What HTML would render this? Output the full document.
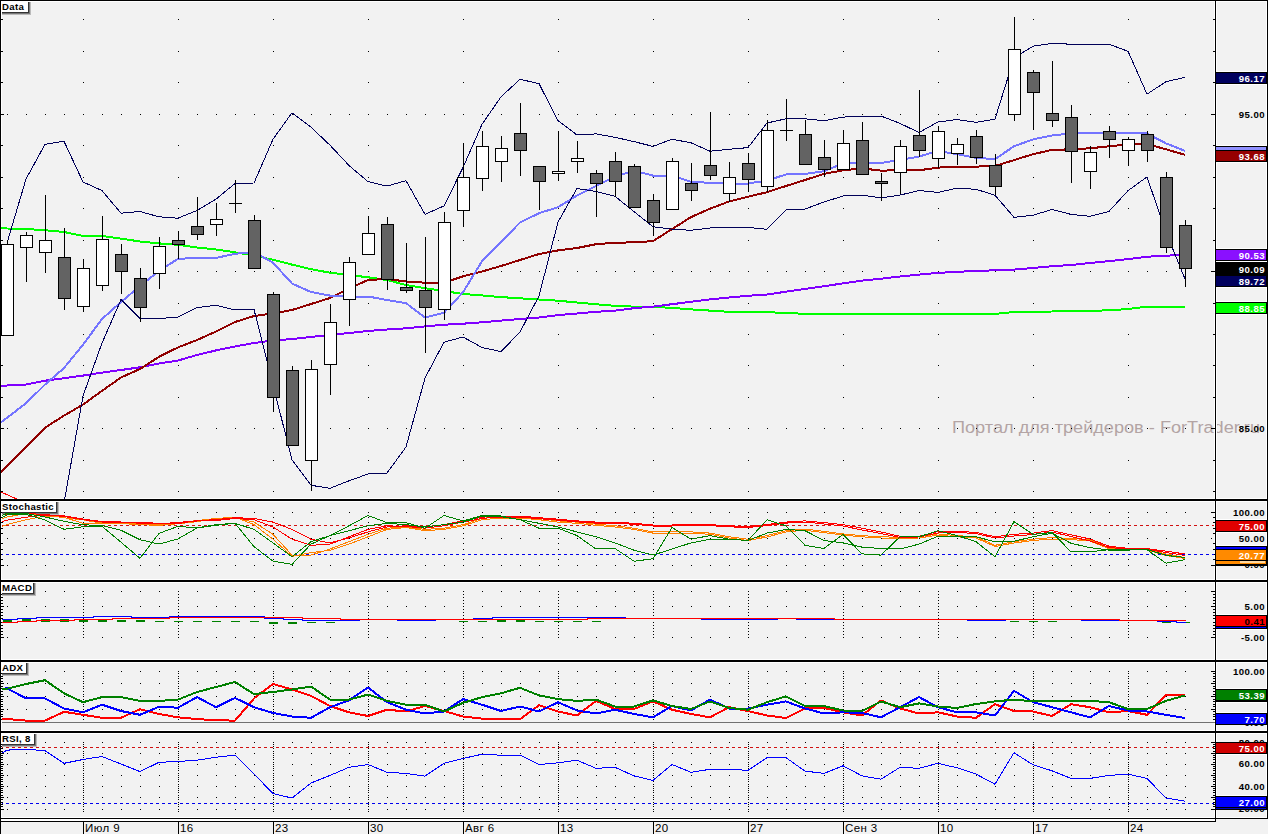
<!DOCTYPE html>
<html><head><meta charset="utf-8"><style>
html,body{margin:0;padding:0;background:#f2f2f2;}
body{width:1268px;height:834px;overflow:hidden;font-family:"Liberation Sans",sans-serif;}
svg{display:block;}
</style></head><body>
<svg width="1268" height="834" viewBox="0 0 1268 834" shape-rendering="crispEdges">
<defs>
<clipPath id="cpMain"><rect x="1" y="1" width="1213" height="498"/></clipPath>
<clipPath id="cpSto"><rect x="2" y="502" width="1212" height="77"/></clipPath>
<clipPath id="cpMacd"><rect x="2" y="582" width="1212" height="77"/></clipPath>
<clipPath id="cpAdx"><rect x="2" y="662" width="1212" height="68"/></clipPath>
<clipPath id="cpRsi"><rect x="2" y="733" width="1212" height="84"/></clipPath>
</defs>
<rect x="0" y="0" width="1268" height="834" fill="#f2f2f2"/>
<text x="952" y="433" font-family="Liberation Sans" font-size="16" fill="#b3a4a4" textLength="308" lengthAdjust="spacingAndGlyphs">Портал для трейдеров - ForTrader.ru</text>
<rect x="1" y="1" width="1214" height="1" fill="#fff"/><rect x="1" y="498" width="1214" height="1" fill="#fff"/><rect x="1216" y="1" width="51" height="1" fill="#fff"/><rect x="1216" y="498" width="51" height="1" fill="#fff"/><rect x="1" y="1" width="1" height="498" fill="#fff"/><rect x="1214" y="1" width="1" height="498" fill="#fff"/><rect x="1216" y="1" width="1" height="498" fill="#fff"/><rect x="1266" y="1" width="1" height="498" fill="#fff"/><rect x="1" y="501" width="1214" height="1" fill="#fff"/><rect x="1" y="579" width="1214" height="1" fill="#fff"/><rect x="1216" y="501" width="51" height="1" fill="#fff"/><rect x="1216" y="579" width="51" height="1" fill="#fff"/><rect x="1" y="501" width="1" height="79" fill="#fff"/><rect x="1214" y="501" width="1" height="79" fill="#fff"/><rect x="1216" y="501" width="1" height="79" fill="#fff"/><rect x="1266" y="501" width="1" height="79" fill="#fff"/><rect x="1" y="582" width="1214" height="1" fill="#fff"/><rect x="1" y="659" width="1214" height="1" fill="#fff"/><rect x="1216" y="582" width="51" height="1" fill="#fff"/><rect x="1216" y="659" width="51" height="1" fill="#fff"/><rect x="1" y="582" width="1" height="78" fill="#fff"/><rect x="1214" y="582" width="1" height="78" fill="#fff"/><rect x="1216" y="582" width="1" height="78" fill="#fff"/><rect x="1266" y="582" width="1" height="78" fill="#fff"/><rect x="1" y="662" width="1214" height="1" fill="#fff"/><rect x="1" y="730" width="1214" height="1" fill="#fff"/><rect x="1216" y="662" width="51" height="1" fill="#fff"/><rect x="1216" y="730" width="51" height="1" fill="#fff"/><rect x="1" y="662" width="1" height="69" fill="#fff"/><rect x="1214" y="662" width="1" height="69" fill="#fff"/><rect x="1216" y="662" width="1" height="69" fill="#fff"/><rect x="1266" y="662" width="1" height="69" fill="#fff"/><rect x="1" y="733" width="1214" height="1" fill="#fff"/><rect x="1" y="817" width="1214" height="1" fill="#fff"/><rect x="1216" y="733" width="51" height="1" fill="#fff"/><rect x="1216" y="817" width="51" height="1" fill="#fff"/><rect x="1" y="733" width="1" height="85" fill="#fff"/><rect x="1214" y="733" width="1" height="85" fill="#fff"/><rect x="1216" y="733" width="1" height="85" fill="#fff"/><rect x="1266" y="733" width="1" height="85" fill="#fff"/><rect x="1" y="819" width="1214" height="1" fill="#fff"/><rect x="1" y="820" width="1214" height="1" fill="#fff"/>
<path fill="#000" d="M7 114h1v1h-1zM26 114h1v1h-1zM45 114h1v1h-1zM64 114h1v1h-1zM83 114h1v1h-1zM102 114h1v1h-1zM121 114h1v1h-1zM140 114h1v1h-1zM159 114h1v1h-1zM178 114h1v1h-1zM197 114h1v1h-1zM216 114h1v1h-1zM235 114h1v1h-1zM254 114h1v1h-1zM273 114h1v1h-1zM292 114h1v1h-1zM311 114h1v1h-1zM330 114h1v1h-1zM349 114h1v1h-1zM368 114h1v1h-1zM387 114h1v1h-1zM406 114h1v1h-1zM425 114h1v1h-1zM444 114h1v1h-1zM463 114h1v1h-1zM482 114h1v1h-1zM501 114h1v1h-1zM520 114h1v1h-1zM539 114h1v1h-1zM558 114h1v1h-1zM577 114h1v1h-1zM596 114h1v1h-1zM615 114h1v1h-1zM634 114h1v1h-1zM653 114h1v1h-1zM672 114h1v1h-1zM691 114h1v1h-1zM710 114h1v1h-1zM729 114h1v1h-1zM748 114h1v1h-1zM767 114h1v1h-1zM786 114h1v1h-1zM805 114h1v1h-1zM824 114h1v1h-1zM843 114h1v1h-1zM862 114h1v1h-1zM881 114h1v1h-1zM900 114h1v1h-1zM919 114h1v1h-1zM938 114h1v1h-1zM957 114h1v1h-1zM976 114h1v1h-1zM995 114h1v1h-1zM1014 114h1v1h-1zM1033 114h1v1h-1zM1052 114h1v1h-1zM1071 114h1v1h-1zM1090 114h1v1h-1zM1109 114h1v1h-1zM1128 114h1v1h-1zM1147 114h1v1h-1zM1166 114h1v1h-1zM1185 114h1v1h-1zM7 271h1v1h-1zM26 271h1v1h-1zM45 271h1v1h-1zM64 271h1v1h-1zM83 271h1v1h-1zM102 271h1v1h-1zM121 271h1v1h-1zM140 271h1v1h-1zM159 271h1v1h-1zM178 271h1v1h-1zM197 271h1v1h-1zM216 271h1v1h-1zM235 271h1v1h-1zM254 271h1v1h-1zM273 271h1v1h-1zM292 271h1v1h-1zM311 271h1v1h-1zM330 271h1v1h-1zM349 271h1v1h-1zM368 271h1v1h-1zM387 271h1v1h-1zM406 271h1v1h-1zM425 271h1v1h-1zM444 271h1v1h-1zM463 271h1v1h-1zM482 271h1v1h-1zM501 271h1v1h-1zM520 271h1v1h-1zM539 271h1v1h-1zM558 271h1v1h-1zM577 271h1v1h-1zM596 271h1v1h-1zM615 271h1v1h-1zM634 271h1v1h-1zM653 271h1v1h-1zM672 271h1v1h-1zM691 271h1v1h-1zM710 271h1v1h-1zM729 271h1v1h-1zM748 271h1v1h-1zM767 271h1v1h-1zM786 271h1v1h-1zM805 271h1v1h-1zM824 271h1v1h-1zM843 271h1v1h-1zM862 271h1v1h-1zM881 271h1v1h-1zM900 271h1v1h-1zM919 271h1v1h-1zM938 271h1v1h-1zM957 271h1v1h-1zM976 271h1v1h-1zM995 271h1v1h-1zM1014 271h1v1h-1zM1033 271h1v1h-1zM1052 271h1v1h-1zM1071 271h1v1h-1zM1090 271h1v1h-1zM1109 271h1v1h-1zM1128 271h1v1h-1zM1147 271h1v1h-1zM1166 271h1v1h-1zM1185 271h1v1h-1zM7 428h1v1h-1zM26 428h1v1h-1zM45 428h1v1h-1zM64 428h1v1h-1zM83 428h1v1h-1zM102 428h1v1h-1zM121 428h1v1h-1zM140 428h1v1h-1zM159 428h1v1h-1zM178 428h1v1h-1zM197 428h1v1h-1zM216 428h1v1h-1zM235 428h1v1h-1zM254 428h1v1h-1zM273 428h1v1h-1zM292 428h1v1h-1zM311 428h1v1h-1zM330 428h1v1h-1zM349 428h1v1h-1zM368 428h1v1h-1zM387 428h1v1h-1zM406 428h1v1h-1zM425 428h1v1h-1zM444 428h1v1h-1zM463 428h1v1h-1zM482 428h1v1h-1zM501 428h1v1h-1zM520 428h1v1h-1zM539 428h1v1h-1zM558 428h1v1h-1zM577 428h1v1h-1zM596 428h1v1h-1zM615 428h1v1h-1zM634 428h1v1h-1zM653 428h1v1h-1zM672 428h1v1h-1zM691 428h1v1h-1zM710 428h1v1h-1zM729 428h1v1h-1zM748 428h1v1h-1zM767 428h1v1h-1zM786 428h1v1h-1zM805 428h1v1h-1zM824 428h1v1h-1zM843 428h1v1h-1zM862 428h1v1h-1zM881 428h1v1h-1zM900 428h1v1h-1zM919 428h1v1h-1zM938 428h1v1h-1zM957 428h1v1h-1zM976 428h1v1h-1zM995 428h1v1h-1zM1014 428h1v1h-1zM1033 428h1v1h-1zM1052 428h1v1h-1zM1071 428h1v1h-1zM1090 428h1v1h-1zM1109 428h1v1h-1zM1128 428h1v1h-1zM1147 428h1v1h-1zM1166 428h1v1h-1zM1185 428h1v1h-1zM83 491h1v1h-1zM83 460h1v1h-1zM83 428h1v1h-1zM83 397h1v1h-1zM83 365h1v1h-1zM83 334h1v1h-1zM83 303h1v1h-1zM83 271h1v1h-1zM83 240h1v1h-1zM83 208h1v1h-1zM83 177h1v1h-1zM83 145h1v1h-1zM83 114h1v1h-1zM83 82h1v1h-1zM83 51h1v1h-1zM83 19h1v1h-1zM178 491h1v1h-1zM178 460h1v1h-1zM178 428h1v1h-1zM178 397h1v1h-1zM178 365h1v1h-1zM178 334h1v1h-1zM178 303h1v1h-1zM178 271h1v1h-1zM178 240h1v1h-1zM178 208h1v1h-1zM178 177h1v1h-1zM178 145h1v1h-1zM178 114h1v1h-1zM178 82h1v1h-1zM178 51h1v1h-1zM178 19h1v1h-1zM273 491h1v1h-1zM273 460h1v1h-1zM273 428h1v1h-1zM273 397h1v1h-1zM273 365h1v1h-1zM273 334h1v1h-1zM273 303h1v1h-1zM273 271h1v1h-1zM273 240h1v1h-1zM273 208h1v1h-1zM273 177h1v1h-1zM273 145h1v1h-1zM273 114h1v1h-1zM273 82h1v1h-1zM273 51h1v1h-1zM273 19h1v1h-1zM368 491h1v1h-1zM368 460h1v1h-1zM368 428h1v1h-1zM368 397h1v1h-1zM368 365h1v1h-1zM368 334h1v1h-1zM368 303h1v1h-1zM368 271h1v1h-1zM368 240h1v1h-1zM368 208h1v1h-1zM368 177h1v1h-1zM368 145h1v1h-1zM368 114h1v1h-1zM368 82h1v1h-1zM368 51h1v1h-1zM368 19h1v1h-1zM463 491h1v1h-1zM463 460h1v1h-1zM463 428h1v1h-1zM463 397h1v1h-1zM463 365h1v1h-1zM463 334h1v1h-1zM463 303h1v1h-1zM463 271h1v1h-1zM463 240h1v1h-1zM463 208h1v1h-1zM463 177h1v1h-1zM463 145h1v1h-1zM463 114h1v1h-1zM463 82h1v1h-1zM463 51h1v1h-1zM463 19h1v1h-1zM558 491h1v1h-1zM558 460h1v1h-1zM558 428h1v1h-1zM558 397h1v1h-1zM558 365h1v1h-1zM558 334h1v1h-1zM558 303h1v1h-1zM558 271h1v1h-1zM558 240h1v1h-1zM558 208h1v1h-1zM558 177h1v1h-1zM558 145h1v1h-1zM558 114h1v1h-1zM558 82h1v1h-1zM558 51h1v1h-1zM558 19h1v1h-1zM653 491h1v1h-1zM653 460h1v1h-1zM653 428h1v1h-1zM653 397h1v1h-1zM653 365h1v1h-1zM653 334h1v1h-1zM653 303h1v1h-1zM653 271h1v1h-1zM653 240h1v1h-1zM653 208h1v1h-1zM653 177h1v1h-1zM653 145h1v1h-1zM653 114h1v1h-1zM653 82h1v1h-1zM653 51h1v1h-1zM653 19h1v1h-1zM748 491h1v1h-1zM748 460h1v1h-1zM748 428h1v1h-1zM748 397h1v1h-1zM748 365h1v1h-1zM748 334h1v1h-1zM748 303h1v1h-1zM748 271h1v1h-1zM748 240h1v1h-1zM748 208h1v1h-1zM748 177h1v1h-1zM748 145h1v1h-1zM748 114h1v1h-1zM748 82h1v1h-1zM748 51h1v1h-1zM748 19h1v1h-1zM843 491h1v1h-1zM843 460h1v1h-1zM843 428h1v1h-1zM843 397h1v1h-1zM843 365h1v1h-1zM843 334h1v1h-1zM843 303h1v1h-1zM843 271h1v1h-1zM843 240h1v1h-1zM843 208h1v1h-1zM843 177h1v1h-1zM843 145h1v1h-1zM843 114h1v1h-1zM843 82h1v1h-1zM843 51h1v1h-1zM843 19h1v1h-1zM938 491h1v1h-1zM938 460h1v1h-1zM938 428h1v1h-1zM938 397h1v1h-1zM938 365h1v1h-1zM938 334h1v1h-1zM938 303h1v1h-1zM938 271h1v1h-1zM938 240h1v1h-1zM938 208h1v1h-1zM938 177h1v1h-1zM938 145h1v1h-1zM938 114h1v1h-1zM938 82h1v1h-1zM938 51h1v1h-1zM938 19h1v1h-1zM1033 491h1v1h-1zM1033 460h1v1h-1zM1033 428h1v1h-1zM1033 397h1v1h-1zM1033 365h1v1h-1zM1033 334h1v1h-1zM1033 303h1v1h-1zM1033 271h1v1h-1zM1033 240h1v1h-1zM1033 208h1v1h-1zM1033 177h1v1h-1zM1033 145h1v1h-1zM1033 114h1v1h-1zM1033 82h1v1h-1zM1033 51h1v1h-1zM1033 19h1v1h-1zM1128 491h1v1h-1zM1128 460h1v1h-1zM1128 428h1v1h-1zM1128 397h1v1h-1zM1128 365h1v1h-1zM1128 334h1v1h-1zM1128 303h1v1h-1zM1128 271h1v1h-1zM1128 240h1v1h-1zM1128 208h1v1h-1zM1128 177h1v1h-1zM1128 145h1v1h-1zM1128 114h1v1h-1zM1128 82h1v1h-1zM1128 51h1v1h-1zM1128 19h1v1h-1zM7 512h1v1h-1zM26 512h1v1h-1zM45 512h1v1h-1zM64 512h1v1h-1zM83 512h1v1h-1zM102 512h1v1h-1zM121 512h1v1h-1zM140 512h1v1h-1zM159 512h1v1h-1zM178 512h1v1h-1zM197 512h1v1h-1zM216 512h1v1h-1zM235 512h1v1h-1zM254 512h1v1h-1zM273 512h1v1h-1zM292 512h1v1h-1zM311 512h1v1h-1zM330 512h1v1h-1zM349 512h1v1h-1zM368 512h1v1h-1zM387 512h1v1h-1zM406 512h1v1h-1zM425 512h1v1h-1zM444 512h1v1h-1zM463 512h1v1h-1zM482 512h1v1h-1zM501 512h1v1h-1zM520 512h1v1h-1zM539 512h1v1h-1zM558 512h1v1h-1zM577 512h1v1h-1zM596 512h1v1h-1zM615 512h1v1h-1zM634 512h1v1h-1zM653 512h1v1h-1zM672 512h1v1h-1zM691 512h1v1h-1zM710 512h1v1h-1zM729 512h1v1h-1zM748 512h1v1h-1zM767 512h1v1h-1zM786 512h1v1h-1zM805 512h1v1h-1zM824 512h1v1h-1zM843 512h1v1h-1zM862 512h1v1h-1zM881 512h1v1h-1zM900 512h1v1h-1zM919 512h1v1h-1zM938 512h1v1h-1zM957 512h1v1h-1zM976 512h1v1h-1zM995 512h1v1h-1zM1014 512h1v1h-1zM1033 512h1v1h-1zM1052 512h1v1h-1zM1071 512h1v1h-1zM1090 512h1v1h-1zM1109 512h1v1h-1zM1128 512h1v1h-1zM1147 512h1v1h-1zM1166 512h1v1h-1zM1185 512h1v1h-1zM7 538h1v1h-1zM26 538h1v1h-1zM45 538h1v1h-1zM64 538h1v1h-1zM83 538h1v1h-1zM102 538h1v1h-1zM121 538h1v1h-1zM140 538h1v1h-1zM159 538h1v1h-1zM178 538h1v1h-1zM197 538h1v1h-1zM216 538h1v1h-1zM235 538h1v1h-1zM254 538h1v1h-1zM273 538h1v1h-1zM292 538h1v1h-1zM311 538h1v1h-1zM330 538h1v1h-1zM349 538h1v1h-1zM368 538h1v1h-1zM387 538h1v1h-1zM406 538h1v1h-1zM425 538h1v1h-1zM444 538h1v1h-1zM463 538h1v1h-1zM482 538h1v1h-1zM501 538h1v1h-1zM520 538h1v1h-1zM539 538h1v1h-1zM558 538h1v1h-1zM577 538h1v1h-1zM596 538h1v1h-1zM615 538h1v1h-1zM634 538h1v1h-1zM653 538h1v1h-1zM672 538h1v1h-1zM691 538h1v1h-1zM710 538h1v1h-1zM729 538h1v1h-1zM748 538h1v1h-1zM767 538h1v1h-1zM786 538h1v1h-1zM805 538h1v1h-1zM824 538h1v1h-1zM843 538h1v1h-1zM862 538h1v1h-1zM881 538h1v1h-1zM900 538h1v1h-1zM919 538h1v1h-1zM938 538h1v1h-1zM957 538h1v1h-1zM976 538h1v1h-1zM995 538h1v1h-1zM1014 538h1v1h-1zM1033 538h1v1h-1zM1052 538h1v1h-1zM1071 538h1v1h-1zM1090 538h1v1h-1zM1109 538h1v1h-1zM1128 538h1v1h-1zM1147 538h1v1h-1zM1166 538h1v1h-1zM1185 538h1v1h-1zM7 565h1v1h-1zM26 565h1v1h-1zM45 565h1v1h-1zM64 565h1v1h-1zM83 565h1v1h-1zM102 565h1v1h-1zM121 565h1v1h-1zM140 565h1v1h-1zM159 565h1v1h-1zM178 565h1v1h-1zM197 565h1v1h-1zM216 565h1v1h-1zM235 565h1v1h-1zM254 565h1v1h-1zM273 565h1v1h-1zM292 565h1v1h-1zM311 565h1v1h-1zM330 565h1v1h-1zM349 565h1v1h-1zM368 565h1v1h-1zM387 565h1v1h-1zM406 565h1v1h-1zM425 565h1v1h-1zM444 565h1v1h-1zM463 565h1v1h-1zM482 565h1v1h-1zM501 565h1v1h-1zM520 565h1v1h-1zM539 565h1v1h-1zM558 565h1v1h-1zM577 565h1v1h-1zM596 565h1v1h-1zM615 565h1v1h-1zM634 565h1v1h-1zM653 565h1v1h-1zM672 565h1v1h-1zM691 565h1v1h-1zM710 565h1v1h-1zM729 565h1v1h-1zM748 565h1v1h-1zM767 565h1v1h-1zM786 565h1v1h-1zM805 565h1v1h-1zM824 565h1v1h-1zM843 565h1v1h-1zM862 565h1v1h-1zM881 565h1v1h-1zM900 565h1v1h-1zM919 565h1v1h-1zM938 565h1v1h-1zM957 565h1v1h-1zM976 565h1v1h-1zM995 565h1v1h-1zM1014 565h1v1h-1zM1033 565h1v1h-1zM1052 565h1v1h-1zM1071 565h1v1h-1zM1090 565h1v1h-1zM1109 565h1v1h-1zM1128 565h1v1h-1zM1147 565h1v1h-1zM1166 565h1v1h-1zM1185 565h1v1h-1zM83 565h1v1h-1zM83 559h1v1h-1zM83 554h1v1h-1zM83 549h1v1h-1zM83 543h1v1h-1zM83 538h1v1h-1zM83 533h1v1h-1zM83 528h1v1h-1zM83 522h1v1h-1zM83 517h1v1h-1zM83 512h1v1h-1zM178 565h1v1h-1zM178 559h1v1h-1zM178 554h1v1h-1zM178 549h1v1h-1zM178 543h1v1h-1zM178 538h1v1h-1zM178 533h1v1h-1zM178 528h1v1h-1zM178 522h1v1h-1zM178 517h1v1h-1zM178 512h1v1h-1zM273 565h1v1h-1zM273 559h1v1h-1zM273 554h1v1h-1zM273 549h1v1h-1zM273 543h1v1h-1zM273 538h1v1h-1zM273 533h1v1h-1zM273 528h1v1h-1zM273 522h1v1h-1zM273 517h1v1h-1zM273 512h1v1h-1zM368 565h1v1h-1zM368 559h1v1h-1zM368 554h1v1h-1zM368 549h1v1h-1zM368 543h1v1h-1zM368 538h1v1h-1zM368 533h1v1h-1zM368 528h1v1h-1zM368 522h1v1h-1zM368 517h1v1h-1zM368 512h1v1h-1zM463 565h1v1h-1zM463 559h1v1h-1zM463 554h1v1h-1zM463 549h1v1h-1zM463 543h1v1h-1zM463 538h1v1h-1zM463 533h1v1h-1zM463 528h1v1h-1zM463 522h1v1h-1zM463 517h1v1h-1zM463 512h1v1h-1zM558 565h1v1h-1zM558 559h1v1h-1zM558 554h1v1h-1zM558 549h1v1h-1zM558 543h1v1h-1zM558 538h1v1h-1zM558 533h1v1h-1zM558 528h1v1h-1zM558 522h1v1h-1zM558 517h1v1h-1zM558 512h1v1h-1zM653 565h1v1h-1zM653 559h1v1h-1zM653 554h1v1h-1zM653 549h1v1h-1zM653 543h1v1h-1zM653 538h1v1h-1zM653 533h1v1h-1zM653 528h1v1h-1zM653 522h1v1h-1zM653 517h1v1h-1zM653 512h1v1h-1zM748 565h1v1h-1zM748 559h1v1h-1zM748 554h1v1h-1zM748 549h1v1h-1zM748 543h1v1h-1zM748 538h1v1h-1zM748 533h1v1h-1zM748 528h1v1h-1zM748 522h1v1h-1zM748 517h1v1h-1zM748 512h1v1h-1zM843 565h1v1h-1zM843 559h1v1h-1zM843 554h1v1h-1zM843 549h1v1h-1zM843 543h1v1h-1zM843 538h1v1h-1zM843 533h1v1h-1zM843 528h1v1h-1zM843 522h1v1h-1zM843 517h1v1h-1zM843 512h1v1h-1zM938 565h1v1h-1zM938 559h1v1h-1zM938 554h1v1h-1zM938 549h1v1h-1zM938 543h1v1h-1zM938 538h1v1h-1zM938 533h1v1h-1zM938 528h1v1h-1zM938 522h1v1h-1zM938 517h1v1h-1zM938 512h1v1h-1zM1033 565h1v1h-1zM1033 559h1v1h-1zM1033 554h1v1h-1zM1033 549h1v1h-1zM1033 543h1v1h-1zM1033 538h1v1h-1zM1033 533h1v1h-1zM1033 528h1v1h-1zM1033 522h1v1h-1zM1033 517h1v1h-1zM1033 512h1v1h-1zM1128 565h1v1h-1zM1128 559h1v1h-1zM1128 554h1v1h-1zM1128 549h1v1h-1zM1128 543h1v1h-1zM1128 538h1v1h-1zM1128 533h1v1h-1zM1128 528h1v1h-1zM1128 522h1v1h-1zM1128 517h1v1h-1zM1128 512h1v1h-1zM7 591h1v1h-1zM26 591h1v1h-1zM45 591h1v1h-1zM64 591h1v1h-1zM83 591h1v1h-1zM102 591h1v1h-1zM121 591h1v1h-1zM140 591h1v1h-1zM159 591h1v1h-1zM178 591h1v1h-1zM197 591h1v1h-1zM216 591h1v1h-1zM235 591h1v1h-1zM254 591h1v1h-1zM273 591h1v1h-1zM292 591h1v1h-1zM311 591h1v1h-1zM330 591h1v1h-1zM349 591h1v1h-1zM368 591h1v1h-1zM387 591h1v1h-1zM406 591h1v1h-1zM425 591h1v1h-1zM444 591h1v1h-1zM463 591h1v1h-1zM482 591h1v1h-1zM501 591h1v1h-1zM520 591h1v1h-1zM539 591h1v1h-1zM558 591h1v1h-1zM577 591h1v1h-1zM596 591h1v1h-1zM615 591h1v1h-1zM634 591h1v1h-1zM653 591h1v1h-1zM672 591h1v1h-1zM691 591h1v1h-1zM710 591h1v1h-1zM729 591h1v1h-1zM748 591h1v1h-1zM767 591h1v1h-1zM786 591h1v1h-1zM805 591h1v1h-1zM824 591h1v1h-1zM843 591h1v1h-1zM862 591h1v1h-1zM881 591h1v1h-1zM900 591h1v1h-1zM919 591h1v1h-1zM938 591h1v1h-1zM957 591h1v1h-1zM976 591h1v1h-1zM995 591h1v1h-1zM1014 591h1v1h-1zM1033 591h1v1h-1zM1052 591h1v1h-1zM1071 591h1v1h-1zM1090 591h1v1h-1zM1109 591h1v1h-1zM1128 591h1v1h-1zM1147 591h1v1h-1zM1166 591h1v1h-1zM1185 591h1v1h-1zM7 606h1v1h-1zM26 606h1v1h-1zM45 606h1v1h-1zM64 606h1v1h-1zM83 606h1v1h-1zM102 606h1v1h-1zM121 606h1v1h-1zM140 606h1v1h-1zM159 606h1v1h-1zM178 606h1v1h-1zM197 606h1v1h-1zM216 606h1v1h-1zM235 606h1v1h-1zM254 606h1v1h-1zM273 606h1v1h-1zM292 606h1v1h-1zM311 606h1v1h-1zM330 606h1v1h-1zM349 606h1v1h-1zM368 606h1v1h-1zM387 606h1v1h-1zM406 606h1v1h-1zM425 606h1v1h-1zM444 606h1v1h-1zM463 606h1v1h-1zM482 606h1v1h-1zM501 606h1v1h-1zM520 606h1v1h-1zM539 606h1v1h-1zM558 606h1v1h-1zM577 606h1v1h-1zM596 606h1v1h-1zM615 606h1v1h-1zM634 606h1v1h-1zM653 606h1v1h-1zM672 606h1v1h-1zM691 606h1v1h-1zM710 606h1v1h-1zM729 606h1v1h-1zM748 606h1v1h-1zM767 606h1v1h-1zM786 606h1v1h-1zM805 606h1v1h-1zM824 606h1v1h-1zM843 606h1v1h-1zM862 606h1v1h-1zM881 606h1v1h-1zM900 606h1v1h-1zM919 606h1v1h-1zM938 606h1v1h-1zM957 606h1v1h-1zM976 606h1v1h-1zM995 606h1v1h-1zM1014 606h1v1h-1zM1033 606h1v1h-1zM1052 606h1v1h-1zM1071 606h1v1h-1zM1090 606h1v1h-1zM1109 606h1v1h-1zM1128 606h1v1h-1zM1147 606h1v1h-1zM1166 606h1v1h-1zM1185 606h1v1h-1zM7 637h1v1h-1zM26 637h1v1h-1zM45 637h1v1h-1zM64 637h1v1h-1zM83 637h1v1h-1zM102 637h1v1h-1zM121 637h1v1h-1zM140 637h1v1h-1zM159 637h1v1h-1zM178 637h1v1h-1zM197 637h1v1h-1zM216 637h1v1h-1zM235 637h1v1h-1zM254 637h1v1h-1zM273 637h1v1h-1zM292 637h1v1h-1zM311 637h1v1h-1zM330 637h1v1h-1zM349 637h1v1h-1zM368 637h1v1h-1zM387 637h1v1h-1zM406 637h1v1h-1zM425 637h1v1h-1zM444 637h1v1h-1zM463 637h1v1h-1zM482 637h1v1h-1zM501 637h1v1h-1zM520 637h1v1h-1zM539 637h1v1h-1zM558 637h1v1h-1zM577 637h1v1h-1zM596 637h1v1h-1zM615 637h1v1h-1zM634 637h1v1h-1zM653 637h1v1h-1zM672 637h1v1h-1zM691 637h1v1h-1zM710 637h1v1h-1zM729 637h1v1h-1zM748 637h1v1h-1zM767 637h1v1h-1zM786 637h1v1h-1zM805 637h1v1h-1zM824 637h1v1h-1zM843 637h1v1h-1zM862 637h1v1h-1zM881 637h1v1h-1zM900 637h1v1h-1zM919 637h1v1h-1zM938 637h1v1h-1zM957 637h1v1h-1zM976 637h1v1h-1zM995 637h1v1h-1zM1014 637h1v1h-1zM1033 637h1v1h-1zM1052 637h1v1h-1zM1071 637h1v1h-1zM1090 637h1v1h-1zM1109 637h1v1h-1zM1128 637h1v1h-1zM1147 637h1v1h-1zM1166 637h1v1h-1zM1185 637h1v1h-1zM83 637h1v1h-1zM83 634h1v1h-1zM83 631h1v1h-1zM83 628h1v1h-1zM83 625h1v1h-1zM83 622h1v1h-1zM83 618h1v1h-1zM83 615h1v1h-1zM83 612h1v1h-1zM83 609h1v1h-1zM83 606h1v1h-1zM83 603h1v1h-1zM83 600h1v1h-1zM83 597h1v1h-1zM83 594h1v1h-1zM83 591h1v1h-1zM178 637h1v1h-1zM178 634h1v1h-1zM178 631h1v1h-1zM178 628h1v1h-1zM178 625h1v1h-1zM178 622h1v1h-1zM178 618h1v1h-1zM178 615h1v1h-1zM178 612h1v1h-1zM178 609h1v1h-1zM178 606h1v1h-1zM178 603h1v1h-1zM178 600h1v1h-1zM178 597h1v1h-1zM178 594h1v1h-1zM178 591h1v1h-1zM273 637h1v1h-1zM273 634h1v1h-1zM273 631h1v1h-1zM273 628h1v1h-1zM273 625h1v1h-1zM273 622h1v1h-1zM273 618h1v1h-1zM273 615h1v1h-1zM273 612h1v1h-1zM273 609h1v1h-1zM273 606h1v1h-1zM273 603h1v1h-1zM273 600h1v1h-1zM273 597h1v1h-1zM273 594h1v1h-1zM273 591h1v1h-1zM368 637h1v1h-1zM368 634h1v1h-1zM368 631h1v1h-1zM368 628h1v1h-1zM368 625h1v1h-1zM368 622h1v1h-1zM368 618h1v1h-1zM368 615h1v1h-1zM368 612h1v1h-1zM368 609h1v1h-1zM368 606h1v1h-1zM368 603h1v1h-1zM368 600h1v1h-1zM368 597h1v1h-1zM368 594h1v1h-1zM368 591h1v1h-1zM463 637h1v1h-1zM463 634h1v1h-1zM463 631h1v1h-1zM463 628h1v1h-1zM463 625h1v1h-1zM463 622h1v1h-1zM463 618h1v1h-1zM463 615h1v1h-1zM463 612h1v1h-1zM463 609h1v1h-1zM463 606h1v1h-1zM463 603h1v1h-1zM463 600h1v1h-1zM463 597h1v1h-1zM463 594h1v1h-1zM463 591h1v1h-1zM558 637h1v1h-1zM558 634h1v1h-1zM558 631h1v1h-1zM558 628h1v1h-1zM558 625h1v1h-1zM558 622h1v1h-1zM558 618h1v1h-1zM558 615h1v1h-1zM558 612h1v1h-1zM558 609h1v1h-1zM558 606h1v1h-1zM558 603h1v1h-1zM558 600h1v1h-1zM558 597h1v1h-1zM558 594h1v1h-1zM558 591h1v1h-1zM653 637h1v1h-1zM653 634h1v1h-1zM653 631h1v1h-1zM653 628h1v1h-1zM653 625h1v1h-1zM653 622h1v1h-1zM653 618h1v1h-1zM653 615h1v1h-1zM653 612h1v1h-1zM653 609h1v1h-1zM653 606h1v1h-1zM653 603h1v1h-1zM653 600h1v1h-1zM653 597h1v1h-1zM653 594h1v1h-1zM653 591h1v1h-1zM748 637h1v1h-1zM748 634h1v1h-1zM748 631h1v1h-1zM748 628h1v1h-1zM748 625h1v1h-1zM748 622h1v1h-1zM748 618h1v1h-1zM748 615h1v1h-1zM748 612h1v1h-1zM748 609h1v1h-1zM748 606h1v1h-1zM748 603h1v1h-1zM748 600h1v1h-1zM748 597h1v1h-1zM748 594h1v1h-1zM748 591h1v1h-1zM843 637h1v1h-1zM843 634h1v1h-1zM843 631h1v1h-1zM843 628h1v1h-1zM843 625h1v1h-1zM843 622h1v1h-1zM843 618h1v1h-1zM843 615h1v1h-1zM843 612h1v1h-1zM843 609h1v1h-1zM843 606h1v1h-1zM843 603h1v1h-1zM843 600h1v1h-1zM843 597h1v1h-1zM843 594h1v1h-1zM843 591h1v1h-1zM938 637h1v1h-1zM938 634h1v1h-1zM938 631h1v1h-1zM938 628h1v1h-1zM938 625h1v1h-1zM938 622h1v1h-1zM938 618h1v1h-1zM938 615h1v1h-1zM938 612h1v1h-1zM938 609h1v1h-1zM938 606h1v1h-1zM938 603h1v1h-1zM938 600h1v1h-1zM938 597h1v1h-1zM938 594h1v1h-1zM938 591h1v1h-1zM1033 637h1v1h-1zM1033 634h1v1h-1zM1033 631h1v1h-1zM1033 628h1v1h-1zM1033 625h1v1h-1zM1033 622h1v1h-1zM1033 618h1v1h-1zM1033 615h1v1h-1zM1033 612h1v1h-1zM1033 609h1v1h-1zM1033 606h1v1h-1zM1033 603h1v1h-1zM1033 600h1v1h-1zM1033 597h1v1h-1zM1033 594h1v1h-1zM1033 591h1v1h-1zM1128 637h1v1h-1zM1128 634h1v1h-1zM1128 631h1v1h-1zM1128 628h1v1h-1zM1128 625h1v1h-1zM1128 622h1v1h-1zM1128 618h1v1h-1zM1128 615h1v1h-1zM1128 612h1v1h-1zM1128 609h1v1h-1zM1128 606h1v1h-1zM1128 603h1v1h-1zM1128 600h1v1h-1zM1128 597h1v1h-1zM1128 594h1v1h-1zM1128 591h1v1h-1zM7 671h1v1h-1zM26 671h1v1h-1zM45 671h1v1h-1zM64 671h1v1h-1zM83 671h1v1h-1zM102 671h1v1h-1zM121 671h1v1h-1zM140 671h1v1h-1zM159 671h1v1h-1zM178 671h1v1h-1zM197 671h1v1h-1zM216 671h1v1h-1zM235 671h1v1h-1zM254 671h1v1h-1zM273 671h1v1h-1zM292 671h1v1h-1zM311 671h1v1h-1zM330 671h1v1h-1zM349 671h1v1h-1zM368 671h1v1h-1zM387 671h1v1h-1zM406 671h1v1h-1zM425 671h1v1h-1zM444 671h1v1h-1zM463 671h1v1h-1zM482 671h1v1h-1zM501 671h1v1h-1zM520 671h1v1h-1zM539 671h1v1h-1zM558 671h1v1h-1zM577 671h1v1h-1zM596 671h1v1h-1zM615 671h1v1h-1zM634 671h1v1h-1zM653 671h1v1h-1zM672 671h1v1h-1zM691 671h1v1h-1zM710 671h1v1h-1zM729 671h1v1h-1zM748 671h1v1h-1zM767 671h1v1h-1zM786 671h1v1h-1zM805 671h1v1h-1zM824 671h1v1h-1zM843 671h1v1h-1zM862 671h1v1h-1zM881 671h1v1h-1zM900 671h1v1h-1zM919 671h1v1h-1zM938 671h1v1h-1zM957 671h1v1h-1zM976 671h1v1h-1zM995 671h1v1h-1zM1014 671h1v1h-1zM1033 671h1v1h-1zM1052 671h1v1h-1zM1071 671h1v1h-1zM1090 671h1v1h-1zM1109 671h1v1h-1zM1128 671h1v1h-1zM1147 671h1v1h-1zM1166 671h1v1h-1zM1185 671h1v1h-1zM7 683h1v1h-1zM26 683h1v1h-1zM45 683h1v1h-1zM64 683h1v1h-1zM83 683h1v1h-1zM102 683h1v1h-1zM121 683h1v1h-1zM140 683h1v1h-1zM159 683h1v1h-1zM178 683h1v1h-1zM197 683h1v1h-1zM216 683h1v1h-1zM235 683h1v1h-1zM254 683h1v1h-1zM273 683h1v1h-1zM292 683h1v1h-1zM311 683h1v1h-1zM330 683h1v1h-1zM349 683h1v1h-1zM368 683h1v1h-1zM387 683h1v1h-1zM406 683h1v1h-1zM425 683h1v1h-1zM444 683h1v1h-1zM463 683h1v1h-1zM482 683h1v1h-1zM501 683h1v1h-1zM520 683h1v1h-1zM539 683h1v1h-1zM558 683h1v1h-1zM577 683h1v1h-1zM596 683h1v1h-1zM615 683h1v1h-1zM634 683h1v1h-1zM653 683h1v1h-1zM672 683h1v1h-1zM691 683h1v1h-1zM710 683h1v1h-1zM729 683h1v1h-1zM748 683h1v1h-1zM767 683h1v1h-1zM786 683h1v1h-1zM805 683h1v1h-1zM824 683h1v1h-1zM843 683h1v1h-1zM862 683h1v1h-1zM881 683h1v1h-1zM900 683h1v1h-1zM919 683h1v1h-1zM938 683h1v1h-1zM957 683h1v1h-1zM976 683h1v1h-1zM995 683h1v1h-1zM1014 683h1v1h-1zM1033 683h1v1h-1zM1052 683h1v1h-1zM1071 683h1v1h-1zM1090 683h1v1h-1zM1109 683h1v1h-1zM1128 683h1v1h-1zM1147 683h1v1h-1zM1166 683h1v1h-1zM1185 683h1v1h-1zM7 696h1v1h-1zM26 696h1v1h-1zM45 696h1v1h-1zM64 696h1v1h-1zM83 696h1v1h-1zM102 696h1v1h-1zM121 696h1v1h-1zM140 696h1v1h-1zM159 696h1v1h-1zM178 696h1v1h-1zM197 696h1v1h-1zM216 696h1v1h-1zM235 696h1v1h-1zM254 696h1v1h-1zM273 696h1v1h-1zM292 696h1v1h-1zM311 696h1v1h-1zM330 696h1v1h-1zM349 696h1v1h-1zM368 696h1v1h-1zM387 696h1v1h-1zM406 696h1v1h-1zM425 696h1v1h-1zM444 696h1v1h-1zM463 696h1v1h-1zM482 696h1v1h-1zM501 696h1v1h-1zM520 696h1v1h-1zM539 696h1v1h-1zM558 696h1v1h-1zM577 696h1v1h-1zM596 696h1v1h-1zM615 696h1v1h-1zM634 696h1v1h-1zM653 696h1v1h-1zM672 696h1v1h-1zM691 696h1v1h-1zM710 696h1v1h-1zM729 696h1v1h-1zM748 696h1v1h-1zM767 696h1v1h-1zM786 696h1v1h-1zM805 696h1v1h-1zM824 696h1v1h-1zM843 696h1v1h-1zM862 696h1v1h-1zM881 696h1v1h-1zM900 696h1v1h-1zM919 696h1v1h-1zM938 696h1v1h-1zM957 696h1v1h-1zM976 696h1v1h-1zM995 696h1v1h-1zM1014 696h1v1h-1zM1033 696h1v1h-1zM1052 696h1v1h-1zM1071 696h1v1h-1zM1090 696h1v1h-1zM1109 696h1v1h-1zM1128 696h1v1h-1zM1147 696h1v1h-1zM1166 696h1v1h-1zM1185 696h1v1h-1zM7 709h1v1h-1zM26 709h1v1h-1zM45 709h1v1h-1zM64 709h1v1h-1zM83 709h1v1h-1zM102 709h1v1h-1zM121 709h1v1h-1zM140 709h1v1h-1zM159 709h1v1h-1zM178 709h1v1h-1zM197 709h1v1h-1zM216 709h1v1h-1zM235 709h1v1h-1zM254 709h1v1h-1zM273 709h1v1h-1zM292 709h1v1h-1zM311 709h1v1h-1zM330 709h1v1h-1zM349 709h1v1h-1zM368 709h1v1h-1zM387 709h1v1h-1zM406 709h1v1h-1zM425 709h1v1h-1zM444 709h1v1h-1zM463 709h1v1h-1zM482 709h1v1h-1zM501 709h1v1h-1zM520 709h1v1h-1zM539 709h1v1h-1zM558 709h1v1h-1zM577 709h1v1h-1zM596 709h1v1h-1zM615 709h1v1h-1zM634 709h1v1h-1zM653 709h1v1h-1zM672 709h1v1h-1zM691 709h1v1h-1zM710 709h1v1h-1zM729 709h1v1h-1zM748 709h1v1h-1zM767 709h1v1h-1zM786 709h1v1h-1zM805 709h1v1h-1zM824 709h1v1h-1zM843 709h1v1h-1zM862 709h1v1h-1zM881 709h1v1h-1zM900 709h1v1h-1zM919 709h1v1h-1zM938 709h1v1h-1zM957 709h1v1h-1zM976 709h1v1h-1zM995 709h1v1h-1zM1014 709h1v1h-1zM1033 709h1v1h-1zM1052 709h1v1h-1zM1071 709h1v1h-1zM1090 709h1v1h-1zM1109 709h1v1h-1zM1128 709h1v1h-1zM1147 709h1v1h-1zM1166 709h1v1h-1zM1185 709h1v1h-1zM83 719h1v1h-1zM83 716h1v1h-1zM83 714h1v1h-1zM83 711h1v1h-1zM83 709h1v1h-1zM83 706h1v1h-1zM83 704h1v1h-1zM83 701h1v1h-1zM83 699h1v1h-1zM83 696h1v1h-1zM83 694h1v1h-1zM83 691h1v1h-1zM83 688h1v1h-1zM83 686h1v1h-1zM83 683h1v1h-1zM83 681h1v1h-1zM83 678h1v1h-1zM83 676h1v1h-1zM83 673h1v1h-1zM83 671h1v1h-1zM178 719h1v1h-1zM178 716h1v1h-1zM178 714h1v1h-1zM178 711h1v1h-1zM178 709h1v1h-1zM178 706h1v1h-1zM178 704h1v1h-1zM178 701h1v1h-1zM178 699h1v1h-1zM178 696h1v1h-1zM178 694h1v1h-1zM178 691h1v1h-1zM178 688h1v1h-1zM178 686h1v1h-1zM178 683h1v1h-1zM178 681h1v1h-1zM178 678h1v1h-1zM178 676h1v1h-1zM178 673h1v1h-1zM178 671h1v1h-1zM273 719h1v1h-1zM273 716h1v1h-1zM273 714h1v1h-1zM273 711h1v1h-1zM273 709h1v1h-1zM273 706h1v1h-1zM273 704h1v1h-1zM273 701h1v1h-1zM273 699h1v1h-1zM273 696h1v1h-1zM273 694h1v1h-1zM273 691h1v1h-1zM273 688h1v1h-1zM273 686h1v1h-1zM273 683h1v1h-1zM273 681h1v1h-1zM273 678h1v1h-1zM273 676h1v1h-1zM273 673h1v1h-1zM273 671h1v1h-1zM368 719h1v1h-1zM368 716h1v1h-1zM368 714h1v1h-1zM368 711h1v1h-1zM368 709h1v1h-1zM368 706h1v1h-1zM368 704h1v1h-1zM368 701h1v1h-1zM368 699h1v1h-1zM368 696h1v1h-1zM368 694h1v1h-1zM368 691h1v1h-1zM368 688h1v1h-1zM368 686h1v1h-1zM368 683h1v1h-1zM368 681h1v1h-1zM368 678h1v1h-1zM368 676h1v1h-1zM368 673h1v1h-1zM368 671h1v1h-1zM463 719h1v1h-1zM463 716h1v1h-1zM463 714h1v1h-1zM463 711h1v1h-1zM463 709h1v1h-1zM463 706h1v1h-1zM463 704h1v1h-1zM463 701h1v1h-1zM463 699h1v1h-1zM463 696h1v1h-1zM463 694h1v1h-1zM463 691h1v1h-1zM463 688h1v1h-1zM463 686h1v1h-1zM463 683h1v1h-1zM463 681h1v1h-1zM463 678h1v1h-1zM463 676h1v1h-1zM463 673h1v1h-1zM463 671h1v1h-1zM558 719h1v1h-1zM558 716h1v1h-1zM558 714h1v1h-1zM558 711h1v1h-1zM558 709h1v1h-1zM558 706h1v1h-1zM558 704h1v1h-1zM558 701h1v1h-1zM558 699h1v1h-1zM558 696h1v1h-1zM558 694h1v1h-1zM558 691h1v1h-1zM558 688h1v1h-1zM558 686h1v1h-1zM558 683h1v1h-1zM558 681h1v1h-1zM558 678h1v1h-1zM558 676h1v1h-1zM558 673h1v1h-1zM558 671h1v1h-1zM653 719h1v1h-1zM653 716h1v1h-1zM653 714h1v1h-1zM653 711h1v1h-1zM653 709h1v1h-1zM653 706h1v1h-1zM653 704h1v1h-1zM653 701h1v1h-1zM653 699h1v1h-1zM653 696h1v1h-1zM653 694h1v1h-1zM653 691h1v1h-1zM653 688h1v1h-1zM653 686h1v1h-1zM653 683h1v1h-1zM653 681h1v1h-1zM653 678h1v1h-1zM653 676h1v1h-1zM653 673h1v1h-1zM653 671h1v1h-1zM748 719h1v1h-1zM748 716h1v1h-1zM748 714h1v1h-1zM748 711h1v1h-1zM748 709h1v1h-1zM748 706h1v1h-1zM748 704h1v1h-1zM748 701h1v1h-1zM748 699h1v1h-1zM748 696h1v1h-1zM748 694h1v1h-1zM748 691h1v1h-1zM748 688h1v1h-1zM748 686h1v1h-1zM748 683h1v1h-1zM748 681h1v1h-1zM748 678h1v1h-1zM748 676h1v1h-1zM748 673h1v1h-1zM748 671h1v1h-1zM843 719h1v1h-1zM843 716h1v1h-1zM843 714h1v1h-1zM843 711h1v1h-1zM843 709h1v1h-1zM843 706h1v1h-1zM843 704h1v1h-1zM843 701h1v1h-1zM843 699h1v1h-1zM843 696h1v1h-1zM843 694h1v1h-1zM843 691h1v1h-1zM843 688h1v1h-1zM843 686h1v1h-1zM843 683h1v1h-1zM843 681h1v1h-1zM843 678h1v1h-1zM843 676h1v1h-1zM843 673h1v1h-1zM843 671h1v1h-1zM938 719h1v1h-1zM938 716h1v1h-1zM938 714h1v1h-1zM938 711h1v1h-1zM938 709h1v1h-1zM938 706h1v1h-1zM938 704h1v1h-1zM938 701h1v1h-1zM938 699h1v1h-1zM938 696h1v1h-1zM938 694h1v1h-1zM938 691h1v1h-1zM938 688h1v1h-1zM938 686h1v1h-1zM938 683h1v1h-1zM938 681h1v1h-1zM938 678h1v1h-1zM938 676h1v1h-1zM938 673h1v1h-1zM938 671h1v1h-1zM1033 719h1v1h-1zM1033 716h1v1h-1zM1033 714h1v1h-1zM1033 711h1v1h-1zM1033 709h1v1h-1zM1033 706h1v1h-1zM1033 704h1v1h-1zM1033 701h1v1h-1zM1033 699h1v1h-1zM1033 696h1v1h-1zM1033 694h1v1h-1zM1033 691h1v1h-1zM1033 688h1v1h-1zM1033 686h1v1h-1zM1033 683h1v1h-1zM1033 681h1v1h-1zM1033 678h1v1h-1zM1033 676h1v1h-1zM1033 673h1v1h-1zM1033 671h1v1h-1zM1128 719h1v1h-1zM1128 716h1v1h-1zM1128 714h1v1h-1zM1128 711h1v1h-1zM1128 709h1v1h-1zM1128 706h1v1h-1zM1128 704h1v1h-1zM1128 701h1v1h-1zM1128 699h1v1h-1zM1128 696h1v1h-1zM1128 694h1v1h-1zM1128 691h1v1h-1zM1128 688h1v1h-1zM1128 686h1v1h-1zM1128 683h1v1h-1zM1128 681h1v1h-1zM1128 678h1v1h-1zM1128 676h1v1h-1zM1128 673h1v1h-1zM1128 671h1v1h-1zM7 809h1v1h-1zM26 809h1v1h-1zM45 809h1v1h-1zM64 809h1v1h-1zM83 809h1v1h-1zM102 809h1v1h-1zM121 809h1v1h-1zM140 809h1v1h-1zM159 809h1v1h-1zM178 809h1v1h-1zM197 809h1v1h-1zM216 809h1v1h-1zM235 809h1v1h-1zM254 809h1v1h-1zM273 809h1v1h-1zM292 809h1v1h-1zM311 809h1v1h-1zM330 809h1v1h-1zM349 809h1v1h-1zM368 809h1v1h-1zM387 809h1v1h-1zM406 809h1v1h-1zM425 809h1v1h-1zM444 809h1v1h-1zM463 809h1v1h-1zM482 809h1v1h-1zM501 809h1v1h-1zM520 809h1v1h-1zM539 809h1v1h-1zM558 809h1v1h-1zM577 809h1v1h-1zM596 809h1v1h-1zM615 809h1v1h-1zM634 809h1v1h-1zM653 809h1v1h-1zM672 809h1v1h-1zM691 809h1v1h-1zM710 809h1v1h-1zM729 809h1v1h-1zM748 809h1v1h-1zM767 809h1v1h-1zM786 809h1v1h-1zM805 809h1v1h-1zM824 809h1v1h-1zM843 809h1v1h-1zM862 809h1v1h-1zM881 809h1v1h-1zM900 809h1v1h-1zM919 809h1v1h-1zM938 809h1v1h-1zM957 809h1v1h-1zM976 809h1v1h-1zM995 809h1v1h-1zM1014 809h1v1h-1zM1033 809h1v1h-1zM1052 809h1v1h-1zM1071 809h1v1h-1zM1090 809h1v1h-1zM1109 809h1v1h-1zM1128 809h1v1h-1zM1147 809h1v1h-1zM1166 809h1v1h-1zM1185 809h1v1h-1zM7 797h1v1h-1zM26 797h1v1h-1zM45 797h1v1h-1zM64 797h1v1h-1zM83 797h1v1h-1zM102 797h1v1h-1zM121 797h1v1h-1zM140 797h1v1h-1zM159 797h1v1h-1zM178 797h1v1h-1zM197 797h1v1h-1zM216 797h1v1h-1zM235 797h1v1h-1zM254 797h1v1h-1zM273 797h1v1h-1zM292 797h1v1h-1zM311 797h1v1h-1zM330 797h1v1h-1zM349 797h1v1h-1zM368 797h1v1h-1zM387 797h1v1h-1zM406 797h1v1h-1zM425 797h1v1h-1zM444 797h1v1h-1zM463 797h1v1h-1zM482 797h1v1h-1zM501 797h1v1h-1zM520 797h1v1h-1zM539 797h1v1h-1zM558 797h1v1h-1zM577 797h1v1h-1zM596 797h1v1h-1zM615 797h1v1h-1zM634 797h1v1h-1zM653 797h1v1h-1zM672 797h1v1h-1zM691 797h1v1h-1zM710 797h1v1h-1zM729 797h1v1h-1zM748 797h1v1h-1zM767 797h1v1h-1zM786 797h1v1h-1zM805 797h1v1h-1zM824 797h1v1h-1zM843 797h1v1h-1zM862 797h1v1h-1zM881 797h1v1h-1zM900 797h1v1h-1zM919 797h1v1h-1zM938 797h1v1h-1zM957 797h1v1h-1zM976 797h1v1h-1zM995 797h1v1h-1zM1014 797h1v1h-1zM1033 797h1v1h-1zM1052 797h1v1h-1zM1071 797h1v1h-1zM1090 797h1v1h-1zM1109 797h1v1h-1zM1128 797h1v1h-1zM1147 797h1v1h-1zM1166 797h1v1h-1zM1185 797h1v1h-1zM7 786h1v1h-1zM26 786h1v1h-1zM45 786h1v1h-1zM64 786h1v1h-1zM83 786h1v1h-1zM102 786h1v1h-1zM121 786h1v1h-1zM140 786h1v1h-1zM159 786h1v1h-1zM178 786h1v1h-1zM197 786h1v1h-1zM216 786h1v1h-1zM235 786h1v1h-1zM254 786h1v1h-1zM273 786h1v1h-1zM292 786h1v1h-1zM311 786h1v1h-1zM330 786h1v1h-1zM349 786h1v1h-1zM368 786h1v1h-1zM387 786h1v1h-1zM406 786h1v1h-1zM425 786h1v1h-1zM444 786h1v1h-1zM463 786h1v1h-1zM482 786h1v1h-1zM501 786h1v1h-1zM520 786h1v1h-1zM539 786h1v1h-1zM558 786h1v1h-1zM577 786h1v1h-1zM596 786h1v1h-1zM615 786h1v1h-1zM634 786h1v1h-1zM653 786h1v1h-1zM672 786h1v1h-1zM691 786h1v1h-1zM710 786h1v1h-1zM729 786h1v1h-1zM748 786h1v1h-1zM767 786h1v1h-1zM786 786h1v1h-1zM805 786h1v1h-1zM824 786h1v1h-1zM843 786h1v1h-1zM862 786h1v1h-1zM881 786h1v1h-1zM900 786h1v1h-1zM919 786h1v1h-1zM938 786h1v1h-1zM957 786h1v1h-1zM976 786h1v1h-1zM995 786h1v1h-1zM1014 786h1v1h-1zM1033 786h1v1h-1zM1052 786h1v1h-1zM1071 786h1v1h-1zM1090 786h1v1h-1zM1109 786h1v1h-1zM1128 786h1v1h-1zM1147 786h1v1h-1zM1166 786h1v1h-1zM1185 786h1v1h-1zM7 775h1v1h-1zM26 775h1v1h-1zM45 775h1v1h-1zM64 775h1v1h-1zM83 775h1v1h-1zM102 775h1v1h-1zM121 775h1v1h-1zM140 775h1v1h-1zM159 775h1v1h-1zM178 775h1v1h-1zM197 775h1v1h-1zM216 775h1v1h-1zM235 775h1v1h-1zM254 775h1v1h-1zM273 775h1v1h-1zM292 775h1v1h-1zM311 775h1v1h-1zM330 775h1v1h-1zM349 775h1v1h-1zM368 775h1v1h-1zM387 775h1v1h-1zM406 775h1v1h-1zM425 775h1v1h-1zM444 775h1v1h-1zM463 775h1v1h-1zM482 775h1v1h-1zM501 775h1v1h-1zM520 775h1v1h-1zM539 775h1v1h-1zM558 775h1v1h-1zM577 775h1v1h-1zM596 775h1v1h-1zM615 775h1v1h-1zM634 775h1v1h-1zM653 775h1v1h-1zM672 775h1v1h-1zM691 775h1v1h-1zM710 775h1v1h-1zM729 775h1v1h-1zM748 775h1v1h-1zM767 775h1v1h-1zM786 775h1v1h-1zM805 775h1v1h-1zM824 775h1v1h-1zM843 775h1v1h-1zM862 775h1v1h-1zM881 775h1v1h-1zM900 775h1v1h-1zM919 775h1v1h-1zM938 775h1v1h-1zM957 775h1v1h-1zM976 775h1v1h-1zM995 775h1v1h-1zM1014 775h1v1h-1zM1033 775h1v1h-1zM1052 775h1v1h-1zM1071 775h1v1h-1zM1090 775h1v1h-1zM1109 775h1v1h-1zM1128 775h1v1h-1zM1147 775h1v1h-1zM1166 775h1v1h-1zM1185 775h1v1h-1zM7 764h1v1h-1zM26 764h1v1h-1zM45 764h1v1h-1zM64 764h1v1h-1zM83 764h1v1h-1zM102 764h1v1h-1zM121 764h1v1h-1zM140 764h1v1h-1zM159 764h1v1h-1zM178 764h1v1h-1zM197 764h1v1h-1zM216 764h1v1h-1zM235 764h1v1h-1zM254 764h1v1h-1zM273 764h1v1h-1zM292 764h1v1h-1zM311 764h1v1h-1zM330 764h1v1h-1zM349 764h1v1h-1zM368 764h1v1h-1zM387 764h1v1h-1zM406 764h1v1h-1zM425 764h1v1h-1zM444 764h1v1h-1zM463 764h1v1h-1zM482 764h1v1h-1zM501 764h1v1h-1zM520 764h1v1h-1zM539 764h1v1h-1zM558 764h1v1h-1zM577 764h1v1h-1zM596 764h1v1h-1zM615 764h1v1h-1zM634 764h1v1h-1zM653 764h1v1h-1zM672 764h1v1h-1zM691 764h1v1h-1zM710 764h1v1h-1zM729 764h1v1h-1zM748 764h1v1h-1zM767 764h1v1h-1zM786 764h1v1h-1zM805 764h1v1h-1zM824 764h1v1h-1zM843 764h1v1h-1zM862 764h1v1h-1zM881 764h1v1h-1zM900 764h1v1h-1zM919 764h1v1h-1zM938 764h1v1h-1zM957 764h1v1h-1zM976 764h1v1h-1zM995 764h1v1h-1zM1014 764h1v1h-1zM1033 764h1v1h-1zM1052 764h1v1h-1zM1071 764h1v1h-1zM1090 764h1v1h-1zM1109 764h1v1h-1zM1128 764h1v1h-1zM1147 764h1v1h-1zM1166 764h1v1h-1zM1185 764h1v1h-1zM7 753h1v1h-1zM26 753h1v1h-1zM45 753h1v1h-1zM64 753h1v1h-1zM83 753h1v1h-1zM102 753h1v1h-1zM121 753h1v1h-1zM140 753h1v1h-1zM159 753h1v1h-1zM178 753h1v1h-1zM197 753h1v1h-1zM216 753h1v1h-1zM235 753h1v1h-1zM254 753h1v1h-1zM273 753h1v1h-1zM292 753h1v1h-1zM311 753h1v1h-1zM330 753h1v1h-1zM349 753h1v1h-1zM368 753h1v1h-1zM387 753h1v1h-1zM406 753h1v1h-1zM425 753h1v1h-1zM444 753h1v1h-1zM463 753h1v1h-1zM482 753h1v1h-1zM501 753h1v1h-1zM520 753h1v1h-1zM539 753h1v1h-1zM558 753h1v1h-1zM577 753h1v1h-1zM596 753h1v1h-1zM615 753h1v1h-1zM634 753h1v1h-1zM653 753h1v1h-1zM672 753h1v1h-1zM691 753h1v1h-1zM710 753h1v1h-1zM729 753h1v1h-1zM748 753h1v1h-1zM767 753h1v1h-1zM786 753h1v1h-1zM805 753h1v1h-1zM824 753h1v1h-1zM843 753h1v1h-1zM862 753h1v1h-1zM881 753h1v1h-1zM900 753h1v1h-1zM919 753h1v1h-1zM938 753h1v1h-1zM957 753h1v1h-1zM976 753h1v1h-1zM995 753h1v1h-1zM1014 753h1v1h-1zM1033 753h1v1h-1zM1052 753h1v1h-1zM1071 753h1v1h-1zM1090 753h1v1h-1zM1109 753h1v1h-1zM1128 753h1v1h-1zM1147 753h1v1h-1zM1166 753h1v1h-1zM1185 753h1v1h-1zM7 742h1v1h-1zM26 742h1v1h-1zM45 742h1v1h-1zM64 742h1v1h-1zM83 742h1v1h-1zM102 742h1v1h-1zM121 742h1v1h-1zM140 742h1v1h-1zM159 742h1v1h-1zM178 742h1v1h-1zM197 742h1v1h-1zM216 742h1v1h-1zM235 742h1v1h-1zM254 742h1v1h-1zM273 742h1v1h-1zM292 742h1v1h-1zM311 742h1v1h-1zM330 742h1v1h-1zM349 742h1v1h-1zM368 742h1v1h-1zM387 742h1v1h-1zM406 742h1v1h-1zM425 742h1v1h-1zM444 742h1v1h-1zM463 742h1v1h-1zM482 742h1v1h-1zM501 742h1v1h-1zM520 742h1v1h-1zM539 742h1v1h-1zM558 742h1v1h-1zM577 742h1v1h-1zM596 742h1v1h-1zM615 742h1v1h-1zM634 742h1v1h-1zM653 742h1v1h-1zM672 742h1v1h-1zM691 742h1v1h-1zM710 742h1v1h-1zM729 742h1v1h-1zM748 742h1v1h-1zM767 742h1v1h-1zM786 742h1v1h-1zM805 742h1v1h-1zM824 742h1v1h-1zM843 742h1v1h-1zM862 742h1v1h-1zM881 742h1v1h-1zM900 742h1v1h-1zM919 742h1v1h-1zM938 742h1v1h-1zM957 742h1v1h-1zM976 742h1v1h-1zM995 742h1v1h-1zM1014 742h1v1h-1zM1033 742h1v1h-1zM1052 742h1v1h-1zM1071 742h1v1h-1zM1090 742h1v1h-1zM1109 742h1v1h-1zM1128 742h1v1h-1zM1147 742h1v1h-1zM1166 742h1v1h-1zM1185 742h1v1h-1zM83 811h1v1h-1zM83 809h1v1h-1zM83 806h1v1h-1zM83 804h1v1h-1zM83 802h1v1h-1zM83 799h1v1h-1zM83 797h1v1h-1zM83 795h1v1h-1zM83 792h1v1h-1zM83 790h1v1h-1zM83 788h1v1h-1zM83 786h1v1h-1zM83 784h1v1h-1zM83 781h1v1h-1zM83 779h1v1h-1zM83 777h1v1h-1zM83 775h1v1h-1zM83 773h1v1h-1zM83 770h1v1h-1zM83 768h1v1h-1zM83 766h1v1h-1zM83 764h1v1h-1zM83 762h1v1h-1zM83 759h1v1h-1zM83 757h1v1h-1zM83 755h1v1h-1zM83 753h1v1h-1zM83 751h1v1h-1zM83 748h1v1h-1zM83 746h1v1h-1zM83 744h1v1h-1zM83 742h1v1h-1zM178 811h1v1h-1zM178 809h1v1h-1zM178 806h1v1h-1zM178 804h1v1h-1zM178 802h1v1h-1zM178 799h1v1h-1zM178 797h1v1h-1zM178 795h1v1h-1zM178 792h1v1h-1zM178 790h1v1h-1zM178 788h1v1h-1zM178 786h1v1h-1zM178 784h1v1h-1zM178 781h1v1h-1zM178 779h1v1h-1zM178 777h1v1h-1zM178 775h1v1h-1zM178 773h1v1h-1zM178 770h1v1h-1zM178 768h1v1h-1zM178 766h1v1h-1zM178 764h1v1h-1zM178 762h1v1h-1zM178 759h1v1h-1zM178 757h1v1h-1zM178 755h1v1h-1zM178 753h1v1h-1zM178 751h1v1h-1zM178 748h1v1h-1zM178 746h1v1h-1zM178 744h1v1h-1zM178 742h1v1h-1zM273 811h1v1h-1zM273 809h1v1h-1zM273 806h1v1h-1zM273 804h1v1h-1zM273 802h1v1h-1zM273 799h1v1h-1zM273 797h1v1h-1zM273 795h1v1h-1zM273 792h1v1h-1zM273 790h1v1h-1zM273 788h1v1h-1zM273 786h1v1h-1zM273 784h1v1h-1zM273 781h1v1h-1zM273 779h1v1h-1zM273 777h1v1h-1zM273 775h1v1h-1zM273 773h1v1h-1zM273 770h1v1h-1zM273 768h1v1h-1zM273 766h1v1h-1zM273 764h1v1h-1zM273 762h1v1h-1zM273 759h1v1h-1zM273 757h1v1h-1zM273 755h1v1h-1zM273 753h1v1h-1zM273 751h1v1h-1zM273 748h1v1h-1zM273 746h1v1h-1zM273 744h1v1h-1zM273 742h1v1h-1zM368 811h1v1h-1zM368 809h1v1h-1zM368 806h1v1h-1zM368 804h1v1h-1zM368 802h1v1h-1zM368 799h1v1h-1zM368 797h1v1h-1zM368 795h1v1h-1zM368 792h1v1h-1zM368 790h1v1h-1zM368 788h1v1h-1zM368 786h1v1h-1zM368 784h1v1h-1zM368 781h1v1h-1zM368 779h1v1h-1zM368 777h1v1h-1zM368 775h1v1h-1zM368 773h1v1h-1zM368 770h1v1h-1zM368 768h1v1h-1zM368 766h1v1h-1zM368 764h1v1h-1zM368 762h1v1h-1zM368 759h1v1h-1zM368 757h1v1h-1zM368 755h1v1h-1zM368 753h1v1h-1zM368 751h1v1h-1zM368 748h1v1h-1zM368 746h1v1h-1zM368 744h1v1h-1zM368 742h1v1h-1zM463 811h1v1h-1zM463 809h1v1h-1zM463 806h1v1h-1zM463 804h1v1h-1zM463 802h1v1h-1zM463 799h1v1h-1zM463 797h1v1h-1zM463 795h1v1h-1zM463 792h1v1h-1zM463 790h1v1h-1zM463 788h1v1h-1zM463 786h1v1h-1zM463 784h1v1h-1zM463 781h1v1h-1zM463 779h1v1h-1zM463 777h1v1h-1zM463 775h1v1h-1zM463 773h1v1h-1zM463 770h1v1h-1zM463 768h1v1h-1zM463 766h1v1h-1zM463 764h1v1h-1zM463 762h1v1h-1zM463 759h1v1h-1zM463 757h1v1h-1zM463 755h1v1h-1zM463 753h1v1h-1zM463 751h1v1h-1zM463 748h1v1h-1zM463 746h1v1h-1zM463 744h1v1h-1zM463 742h1v1h-1zM558 811h1v1h-1zM558 809h1v1h-1zM558 806h1v1h-1zM558 804h1v1h-1zM558 802h1v1h-1zM558 799h1v1h-1zM558 797h1v1h-1zM558 795h1v1h-1zM558 792h1v1h-1zM558 790h1v1h-1zM558 788h1v1h-1zM558 786h1v1h-1zM558 784h1v1h-1zM558 781h1v1h-1zM558 779h1v1h-1zM558 777h1v1h-1zM558 775h1v1h-1zM558 773h1v1h-1zM558 770h1v1h-1zM558 768h1v1h-1zM558 766h1v1h-1zM558 764h1v1h-1zM558 762h1v1h-1zM558 759h1v1h-1zM558 757h1v1h-1zM558 755h1v1h-1zM558 753h1v1h-1zM558 751h1v1h-1zM558 748h1v1h-1zM558 746h1v1h-1zM558 744h1v1h-1zM558 742h1v1h-1zM653 811h1v1h-1zM653 809h1v1h-1zM653 806h1v1h-1zM653 804h1v1h-1zM653 802h1v1h-1zM653 799h1v1h-1zM653 797h1v1h-1zM653 795h1v1h-1zM653 792h1v1h-1zM653 790h1v1h-1zM653 788h1v1h-1zM653 786h1v1h-1zM653 784h1v1h-1zM653 781h1v1h-1zM653 779h1v1h-1zM653 777h1v1h-1zM653 775h1v1h-1zM653 773h1v1h-1zM653 770h1v1h-1zM653 768h1v1h-1zM653 766h1v1h-1zM653 764h1v1h-1zM653 762h1v1h-1zM653 759h1v1h-1zM653 757h1v1h-1zM653 755h1v1h-1zM653 753h1v1h-1zM653 751h1v1h-1zM653 748h1v1h-1zM653 746h1v1h-1zM653 744h1v1h-1zM653 742h1v1h-1zM748 811h1v1h-1zM748 809h1v1h-1zM748 806h1v1h-1zM748 804h1v1h-1zM748 802h1v1h-1zM748 799h1v1h-1zM748 797h1v1h-1zM748 795h1v1h-1zM748 792h1v1h-1zM748 790h1v1h-1zM748 788h1v1h-1zM748 786h1v1h-1zM748 784h1v1h-1zM748 781h1v1h-1zM748 779h1v1h-1zM748 777h1v1h-1zM748 775h1v1h-1zM748 773h1v1h-1zM748 770h1v1h-1zM748 768h1v1h-1zM748 766h1v1h-1zM748 764h1v1h-1zM748 762h1v1h-1zM748 759h1v1h-1zM748 757h1v1h-1zM748 755h1v1h-1zM748 753h1v1h-1zM748 751h1v1h-1zM748 748h1v1h-1zM748 746h1v1h-1zM748 744h1v1h-1zM748 742h1v1h-1zM843 811h1v1h-1zM843 809h1v1h-1zM843 806h1v1h-1zM843 804h1v1h-1zM843 802h1v1h-1zM843 799h1v1h-1zM843 797h1v1h-1zM843 795h1v1h-1zM843 792h1v1h-1zM843 790h1v1h-1zM843 788h1v1h-1zM843 786h1v1h-1zM843 784h1v1h-1zM843 781h1v1h-1zM843 779h1v1h-1zM843 777h1v1h-1zM843 775h1v1h-1zM843 773h1v1h-1zM843 770h1v1h-1zM843 768h1v1h-1zM843 766h1v1h-1zM843 764h1v1h-1zM843 762h1v1h-1zM843 759h1v1h-1zM843 757h1v1h-1zM843 755h1v1h-1zM843 753h1v1h-1zM843 751h1v1h-1zM843 748h1v1h-1zM843 746h1v1h-1zM843 744h1v1h-1zM843 742h1v1h-1zM938 811h1v1h-1zM938 809h1v1h-1zM938 806h1v1h-1zM938 804h1v1h-1zM938 802h1v1h-1zM938 799h1v1h-1zM938 797h1v1h-1zM938 795h1v1h-1zM938 792h1v1h-1zM938 790h1v1h-1zM938 788h1v1h-1zM938 786h1v1h-1zM938 784h1v1h-1zM938 781h1v1h-1zM938 779h1v1h-1zM938 777h1v1h-1zM938 775h1v1h-1zM938 773h1v1h-1zM938 770h1v1h-1zM938 768h1v1h-1zM938 766h1v1h-1zM938 764h1v1h-1zM938 762h1v1h-1zM938 759h1v1h-1zM938 757h1v1h-1zM938 755h1v1h-1zM938 753h1v1h-1zM938 751h1v1h-1zM938 748h1v1h-1zM938 746h1v1h-1zM938 744h1v1h-1zM938 742h1v1h-1zM1033 811h1v1h-1zM1033 809h1v1h-1zM1033 806h1v1h-1zM1033 804h1v1h-1zM1033 802h1v1h-1zM1033 799h1v1h-1zM1033 797h1v1h-1zM1033 795h1v1h-1zM1033 792h1v1h-1zM1033 790h1v1h-1zM1033 788h1v1h-1zM1033 786h1v1h-1zM1033 784h1v1h-1zM1033 781h1v1h-1zM1033 779h1v1h-1zM1033 777h1v1h-1zM1033 775h1v1h-1zM1033 773h1v1h-1zM1033 770h1v1h-1zM1033 768h1v1h-1zM1033 766h1v1h-1zM1033 764h1v1h-1zM1033 762h1v1h-1zM1033 759h1v1h-1zM1033 757h1v1h-1zM1033 755h1v1h-1zM1033 753h1v1h-1zM1033 751h1v1h-1zM1033 748h1v1h-1zM1033 746h1v1h-1zM1033 744h1v1h-1zM1033 742h1v1h-1zM1128 811h1v1h-1zM1128 809h1v1h-1zM1128 806h1v1h-1zM1128 804h1v1h-1zM1128 802h1v1h-1zM1128 799h1v1h-1zM1128 797h1v1h-1zM1128 795h1v1h-1zM1128 792h1v1h-1zM1128 790h1v1h-1zM1128 788h1v1h-1zM1128 786h1v1h-1zM1128 784h1v1h-1zM1128 781h1v1h-1zM1128 779h1v1h-1zM1128 777h1v1h-1zM1128 775h1v1h-1zM1128 773h1v1h-1zM1128 770h1v1h-1zM1128 768h1v1h-1zM1128 766h1v1h-1zM1128 764h1v1h-1zM1128 762h1v1h-1zM1128 759h1v1h-1zM1128 757h1v1h-1zM1128 755h1v1h-1zM1128 753h1v1h-1zM1128 751h1v1h-1zM1128 748h1v1h-1zM1128 746h1v1h-1zM1128 744h1v1h-1zM1128 742h1v1h-1z"/>
<rect x="1213" y="491" width="2" height="1" fill="#000"/><rect x="1" y="491" width="2" height="1" fill="#000"/><rect x="1213" y="460" width="2" height="1" fill="#000"/><rect x="1" y="460" width="2" height="1" fill="#000"/><rect x="1211" y="428" width="4" height="1" fill="#000"/><rect x="1" y="428" width="3" height="1" fill="#000"/><rect x="1213" y="397" width="2" height="1" fill="#000"/><rect x="1" y="397" width="2" height="1" fill="#000"/><rect x="1213" y="365" width="2" height="1" fill="#000"/><rect x="1" y="365" width="2" height="1" fill="#000"/><rect x="1213" y="334" width="2" height="1" fill="#000"/><rect x="1" y="334" width="2" height="1" fill="#000"/><rect x="1213" y="303" width="2" height="1" fill="#000"/><rect x="1" y="303" width="2" height="1" fill="#000"/><rect x="1211" y="271" width="4" height="1" fill="#000"/><rect x="1" y="271" width="3" height="1" fill="#000"/><rect x="1213" y="240" width="2" height="1" fill="#000"/><rect x="1" y="240" width="2" height="1" fill="#000"/><rect x="1213" y="208" width="2" height="1" fill="#000"/><rect x="1" y="208" width="2" height="1" fill="#000"/><rect x="1213" y="177" width="2" height="1" fill="#000"/><rect x="1" y="177" width="2" height="1" fill="#000"/><rect x="1213" y="145" width="2" height="1" fill="#000"/><rect x="1" y="145" width="2" height="1" fill="#000"/><rect x="1211" y="114" width="4" height="1" fill="#000"/><rect x="1" y="114" width="3" height="1" fill="#000"/><rect x="1213" y="82" width="2" height="1" fill="#000"/><rect x="1" y="82" width="2" height="1" fill="#000"/><rect x="1213" y="51" width="2" height="1" fill="#000"/><rect x="1" y="51" width="2" height="1" fill="#000"/><rect x="1213" y="19" width="2" height="1" fill="#000"/><rect x="1" y="19" width="2" height="1" fill="#000"/><rect x="1211" y="565" width="4" height="1" fill="#000"/><rect x="1" y="565" width="3" height="1" fill="#000"/><rect x="1213" y="559" width="2" height="1" fill="#000"/><rect x="1" y="559" width="2" height="1" fill="#000"/><rect x="1213" y="554" width="2" height="1" fill="#000"/><rect x="1" y="554" width="2" height="1" fill="#000"/><rect x="1213" y="549" width="2" height="1" fill="#000"/><rect x="1" y="549" width="2" height="1" fill="#000"/><rect x="1213" y="543" width="2" height="1" fill="#000"/><rect x="1" y="543" width="2" height="1" fill="#000"/><rect x="1213" y="533" width="2" height="1" fill="#000"/><rect x="1" y="533" width="2" height="1" fill="#000"/><rect x="1213" y="528" width="2" height="1" fill="#000"/><rect x="1" y="528" width="2" height="1" fill="#000"/><rect x="1213" y="522" width="2" height="1" fill="#000"/><rect x="1" y="522" width="2" height="1" fill="#000"/><rect x="1213" y="517" width="2" height="1" fill="#000"/><rect x="1" y="517" width="2" height="1" fill="#000"/><rect x="1211" y="512" width="4" height="1" fill="#000"/><rect x="1" y="512" width="3" height="1" fill="#000"/><rect x="1211" y="538" width="1" height="1" fill="#000"/><rect x="1211" y="637" width="4" height="1" fill="#000"/><rect x="1" y="637" width="3" height="1" fill="#000"/><rect x="1213" y="634" width="2" height="1" fill="#000"/><rect x="1" y="634" width="2" height="1" fill="#000"/><rect x="1213" y="631" width="2" height="1" fill="#000"/><rect x="1" y="631" width="2" height="1" fill="#000"/><rect x="1213" y="628" width="2" height="1" fill="#000"/><rect x="1" y="628" width="2" height="1" fill="#000"/><rect x="1213" y="625" width="2" height="1" fill="#000"/><rect x="1" y="625" width="2" height="1" fill="#000"/><rect x="1213" y="622" width="2" height="1" fill="#000"/><rect x="1" y="622" width="2" height="1" fill="#000"/><rect x="1213" y="618" width="2" height="1" fill="#000"/><rect x="1" y="618" width="2" height="1" fill="#000"/><rect x="1213" y="615" width="2" height="1" fill="#000"/><rect x="1" y="615" width="2" height="1" fill="#000"/><rect x="1213" y="612" width="2" height="1" fill="#000"/><rect x="1" y="612" width="2" height="1" fill="#000"/><rect x="1213" y="609" width="2" height="1" fill="#000"/><rect x="1" y="609" width="2" height="1" fill="#000"/><rect x="1211" y="606" width="4" height="1" fill="#000"/><rect x="1" y="606" width="3" height="1" fill="#000"/><rect x="1213" y="603" width="2" height="1" fill="#000"/><rect x="1" y="603" width="2" height="1" fill="#000"/><rect x="1213" y="600" width="2" height="1" fill="#000"/><rect x="1" y="600" width="2" height="1" fill="#000"/><rect x="1213" y="597" width="2" height="1" fill="#000"/><rect x="1" y="597" width="2" height="1" fill="#000"/><rect x="1213" y="594" width="2" height="1" fill="#000"/><rect x="1" y="594" width="2" height="1" fill="#000"/><rect x="1211" y="591" width="4" height="1" fill="#000"/><rect x="1" y="591" width="3" height="1" fill="#000"/><rect x="1213" y="719" width="2" height="1" fill="#000"/><rect x="1" y="719" width="2" height="1" fill="#000"/><rect x="1213" y="716" width="2" height="1" fill="#000"/><rect x="1" y="716" width="2" height="1" fill="#000"/><rect x="1213" y="714" width="2" height="1" fill="#000"/><rect x="1" y="714" width="2" height="1" fill="#000"/><rect x="1213" y="711" width="2" height="1" fill="#000"/><rect x="1" y="711" width="2" height="1" fill="#000"/><rect x="1211" y="709" width="4" height="1" fill="#000"/><rect x="1" y="709" width="3" height="1" fill="#000"/><rect x="1213" y="706" width="2" height="1" fill="#000"/><rect x="1" y="706" width="2" height="1" fill="#000"/><rect x="1213" y="704" width="2" height="1" fill="#000"/><rect x="1" y="704" width="2" height="1" fill="#000"/><rect x="1213" y="701" width="2" height="1" fill="#000"/><rect x="1" y="701" width="2" height="1" fill="#000"/><rect x="1213" y="699" width="2" height="1" fill="#000"/><rect x="1" y="699" width="2" height="1" fill="#000"/><rect x="1211" y="696" width="4" height="1" fill="#000"/><rect x="1" y="696" width="3" height="1" fill="#000"/><rect x="1213" y="694" width="2" height="1" fill="#000"/><rect x="1" y="694" width="2" height="1" fill="#000"/><rect x="1213" y="691" width="2" height="1" fill="#000"/><rect x="1" y="691" width="2" height="1" fill="#000"/><rect x="1213" y="688" width="2" height="1" fill="#000"/><rect x="1" y="688" width="2" height="1" fill="#000"/><rect x="1213" y="686" width="2" height="1" fill="#000"/><rect x="1" y="686" width="2" height="1" fill="#000"/><rect x="1211" y="683" width="4" height="1" fill="#000"/><rect x="1" y="683" width="3" height="1" fill="#000"/><rect x="1213" y="681" width="2" height="1" fill="#000"/><rect x="1" y="681" width="2" height="1" fill="#000"/><rect x="1213" y="678" width="2" height="1" fill="#000"/><rect x="1" y="678" width="2" height="1" fill="#000"/><rect x="1213" y="676" width="2" height="1" fill="#000"/><rect x="1" y="676" width="2" height="1" fill="#000"/><rect x="1213" y="673" width="2" height="1" fill="#000"/><rect x="1" y="673" width="2" height="1" fill="#000"/><rect x="1211" y="671" width="4" height="1" fill="#000"/><rect x="1" y="671" width="3" height="1" fill="#000"/><rect x="1211" y="809" width="4" height="1" fill="#000"/><rect x="1" y="809" width="3" height="1" fill="#000"/><rect x="1213" y="806" width="2" height="1" fill="#000"/><rect x="1" y="806" width="2" height="1" fill="#000"/><rect x="1213" y="804" width="2" height="1" fill="#000"/><rect x="1" y="804" width="2" height="1" fill="#000"/><rect x="1213" y="802" width="2" height="1" fill="#000"/><rect x="1" y="802" width="2" height="1" fill="#000"/><rect x="1213" y="799" width="2" height="1" fill="#000"/><rect x="1" y="799" width="2" height="1" fill="#000"/><rect x="1211" y="797" width="4" height="1" fill="#000"/><rect x="1" y="797" width="3" height="1" fill="#000"/><rect x="1213" y="795" width="2" height="1" fill="#000"/><rect x="1" y="795" width="2" height="1" fill="#000"/><rect x="1213" y="792" width="2" height="1" fill="#000"/><rect x="1" y="792" width="2" height="1" fill="#000"/><rect x="1213" y="790" width="2" height="1" fill="#000"/><rect x="1" y="790" width="2" height="1" fill="#000"/><rect x="1213" y="788" width="2" height="1" fill="#000"/><rect x="1" y="788" width="2" height="1" fill="#000"/><rect x="1211" y="786" width="4" height="1" fill="#000"/><rect x="1" y="786" width="3" height="1" fill="#000"/><rect x="1213" y="784" width="2" height="1" fill="#000"/><rect x="1" y="784" width="2" height="1" fill="#000"/><rect x="1213" y="781" width="2" height="1" fill="#000"/><rect x="1" y="781" width="2" height="1" fill="#000"/><rect x="1213" y="779" width="2" height="1" fill="#000"/><rect x="1" y="779" width="2" height="1" fill="#000"/><rect x="1213" y="777" width="2" height="1" fill="#000"/><rect x="1" y="777" width="2" height="1" fill="#000"/><rect x="1211" y="775" width="4" height="1" fill="#000"/><rect x="1" y="775" width="3" height="1" fill="#000"/><rect x="1213" y="773" width="2" height="1" fill="#000"/><rect x="1" y="773" width="2" height="1" fill="#000"/><rect x="1213" y="770" width="2" height="1" fill="#000"/><rect x="1" y="770" width="2" height="1" fill="#000"/><rect x="1213" y="768" width="2" height="1" fill="#000"/><rect x="1" y="768" width="2" height="1" fill="#000"/><rect x="1213" y="766" width="2" height="1" fill="#000"/><rect x="1" y="766" width="2" height="1" fill="#000"/><rect x="1211" y="764" width="4" height="1" fill="#000"/><rect x="1" y="764" width="3" height="1" fill="#000"/><rect x="1213" y="762" width="2" height="1" fill="#000"/><rect x="1" y="762" width="2" height="1" fill="#000"/><rect x="1213" y="759" width="2" height="1" fill="#000"/><rect x="1" y="759" width="2" height="1" fill="#000"/><rect x="1213" y="757" width="2" height="1" fill="#000"/><rect x="1" y="757" width="2" height="1" fill="#000"/><rect x="1213" y="755" width="2" height="1" fill="#000"/><rect x="1" y="755" width="2" height="1" fill="#000"/><rect x="1211" y="753" width="4" height="1" fill="#000"/><rect x="1" y="753" width="3" height="1" fill="#000"/><rect x="1213" y="751" width="2" height="1" fill="#000"/><rect x="1" y="751" width="2" height="1" fill="#000"/><rect x="1213" y="748" width="2" height="1" fill="#000"/><rect x="1" y="748" width="2" height="1" fill="#000"/><rect x="1213" y="746" width="2" height="1" fill="#000"/><rect x="1" y="746" width="2" height="1" fill="#000"/><rect x="1213" y="744" width="2" height="1" fill="#000"/><rect x="1" y="744" width="2" height="1" fill="#000"/><rect x="1211" y="742" width="4" height="1" fill="#000"/><rect x="1" y="742" width="3" height="1" fill="#000"/>
<rect x="28" y="2" width="3" height="13" fill="#bbb"/><rect x="2" y="12" width="29" height="3" fill="#bbb"/><rect x="28" y="2" width="2" height="12" fill="#777"/><rect x="2" y="12" width="28" height="2" fill="#777"/><rect x="28" y="2" width="1" height="11" fill="#333"/><rect x="2" y="12" width="27" height="1" fill="#333"/><rect x="1" y="1" width="27" height="11" fill="#fff"/><text x="2" y="10" font-family="Liberation Sans" font-weight="bold" font-size="9.6" letter-spacing="0.35" fill="#000">Data</text>
<rect x="56" y="502" width="3" height="13" fill="#bbb"/><rect x="2" y="512" width="57" height="3" fill="#bbb"/><rect x="56" y="502" width="2" height="12" fill="#777"/><rect x="2" y="512" width="56" height="2" fill="#777"/><rect x="56" y="502" width="1" height="11" fill="#333"/><rect x="2" y="512" width="55" height="1" fill="#333"/><rect x="1" y="501" width="55" height="11" fill="#fff"/><text x="2" y="510" font-family="Liberation Sans" font-weight="bold" font-size="9.6" letter-spacing="0.35" fill="#000">Stochastic</text>
<rect x="33" y="583" width="3" height="13" fill="#bbb"/><rect x="2" y="593" width="34" height="3" fill="#bbb"/><rect x="33" y="583" width="2" height="12" fill="#777"/><rect x="2" y="593" width="33" height="2" fill="#777"/><rect x="33" y="583" width="1" height="11" fill="#333"/><rect x="2" y="593" width="32" height="1" fill="#333"/><rect x="1" y="582" width="32" height="11" fill="#fff"/><text x="2" y="591" font-family="Liberation Sans" font-weight="bold" font-size="9.6" letter-spacing="0.35" fill="#000">MACD</text>
<rect x="26" y="663" width="3" height="13" fill="#bbb"/><rect x="2" y="673" width="27" height="3" fill="#bbb"/><rect x="26" y="663" width="2" height="12" fill="#777"/><rect x="2" y="673" width="26" height="2" fill="#777"/><rect x="26" y="663" width="1" height="11" fill="#333"/><rect x="2" y="673" width="25" height="1" fill="#333"/><rect x="1" y="662" width="25" height="11" fill="#fff"/><text x="2" y="671" font-family="Liberation Sans" font-weight="bold" font-size="9.6" letter-spacing="0.35" fill="#000">ADX</text>
<rect x="34" y="734" width="3" height="13" fill="#bbb"/><rect x="2" y="744" width="35" height="3" fill="#bbb"/><rect x="34" y="734" width="2" height="12" fill="#777"/><rect x="2" y="744" width="34" height="2" fill="#777"/><rect x="34" y="734" width="1" height="11" fill="#333"/><rect x="2" y="744" width="33" height="1" fill="#333"/><rect x="1" y="733" width="33" height="11" fill="#fff"/><text x="2" y="742" font-family="Liberation Sans" font-weight="bold" font-size="9.6" letter-spacing="0.35" fill="#000">RSI, 8</text>
<g clip-path="url(#cpMain)" fill="none" stroke-linejoin="round">
<polyline points="0,491.5 19,500" stroke="#ff0000" stroke-width="1"/>
<polyline points="-12,228 7,228.5 26,229 45,230.2 64,232 83,236 102,236 121,238.6 140,241.5 159,243.4 178,244.8 197,247.5 216,249.5 235,252.3 254,255.5 273,259.8 292,264.6 311,269.2 330,272.7 349,275 368,277.3 387,280 406,285 425,288.2 444,291 463,294 482,295.4 501,297.1 520,298.3 539,299.5 558,300.7 577,302.5 596,304.2 615,305.9 634,306.6 653,307 672,307.8 691,309.4 710,310.6 729,311.8 748,311.8 767,312 786,313.2 805,313.7 824,313.8 843,313.8 862,313.8 881,313.8 900,313.8 919,313.8 938,313.8 957,313.8 976,313.8 995,313.9 1014,312 1033,311.8 1052,311.5 1071,311 1090,310.7 1109,310.4 1128,309 1147,306.6 1166,306.8 1185,307" stroke="#00ff00" stroke-width="2"/>
<polyline points="-12,387 7,385.5 26,384.5 45,380.7 64,378.2 83,375.6 102,372.6 121,370 140,367.3 159,363.5 178,360.5 197,355 216,350.4 235,346.5 254,343 273,340.5 292,339 311,337 330,334.8 349,333 368,331 387,329.5 406,328.3 425,326.4 444,324.7 463,323.7 482,322.3 501,320.6 520,319 539,317.5 558,315.1 577,313.5 596,311.8 615,310.6 634,308.2 653,306.6 672,304.2 691,301.8 710,299.4 729,297.5 748,295.8 767,294.5 786,291.7 805,288.9 824,286.2 843,283.4 862,280.6 881,278.7 900,276.5 919,274.6 938,272.9 957,271.8 976,271 995,270.3 1014,269.6 1033,268 1052,266.2 1071,265 1090,263 1109,261.1 1128,259.1 1147,256.7 1166,255.8 1185,254.5" stroke="#8000ff" stroke-width="2"/>
<polyline points="-12,485 7,465.8 26,446.8 45,427.7 64,415.6 83,404.6 102,390.8 121,377.5 140,369 159,356.8 178,347.4 197,340 216,331.5 235,322 254,316 273,313.5 292,310 311,304 330,298 349,288.4 368,280 387,279 406,281.5 425,282.7 444,282.7 463,276.3 482,271.5 501,266 520,260 539,254 558,250.4 577,248 596,244.2 615,242.8 634,242.3 653,241.1 672,229.1 691,217.1 710,208.7 729,201.5 748,196.7 767,192.2 786,186 805,180 824,173.9 843,170.3 862,168.4 881,170.6 900,170.3 919,170.3 938,167.6 957,166.8 976,166.6 995,166 1014,160.1 1033,154.2 1052,149.9 1071,149.3 1090,148.3 1109,146.3 1128,144.4 1147,144 1166,149.3 1185,154.8" stroke="#900000" stroke-width="2"/>
<polyline points="-12,432.4 7,417.8 26,403.2 45,384.6 64,368 83,344.7 102,319 121,302 140,286 159,271 178,258.8 197,258 216,257.9 235,253.8 254,252 273,262.7 292,283.5 311,292 330,295.6 349,296.5 368,296.5 387,300 406,303.1 425,317.5 444,312.7 463,292.3 482,261.2 501,242 520,222.5 539,213.2 558,207.2 577,195.5 596,186 615,176.4 634,170.8 653,175.6 672,175.6 691,181.9 710,182.8 729,183.5 748,183.5 767,180.5 786,174.5 805,173.9 824,171.2 843,163.4 862,162.9 881,162.9 900,160.1 919,156.5 938,151 957,154.2 976,157.8 995,159.1 1014,146.3 1033,139.4 1052,135.5 1071,133.5 1090,132.9 1109,132.5 1128,132.9 1147,133.5 1166,143.4 1185,150.9" stroke="#7474ff" stroke-width="2"/>
<polyline points="7,243 26,179 45,144.4 64,141.2 83,182 102,190.6 121,213.2 140,211.5 159,216.8 178,218.2 197,210.5 216,199.1 235,183.5 254,183 273,139.2 292,112.8 311,127.2 330,145.2 349,165.5 368,181.6 387,186.1 406,180.7 425,214.3 444,205.9 463,167.5 482,124.3 501,96.8 520,79.3 539,83.6 558,120.7 577,135 596,133.9 615,137.3 634,141.6 653,146.4 672,139.2 691,142.8 710,151.2 729,149.3 748,147.6 767,123 786,118.8 805,118.8 824,120.7 843,117.1 862,116 881,116 900,123.4 919,132.5 938,122 957,119.5 976,122.3 995,119.1 1014,58 1033,46.2 1052,43.4 1071,44.2 1090,44.2 1109,44.2 1128,51.3 1147,94.1 1166,81.7 1185,77.3" stroke="#000058" stroke-width="1"/>
<polyline points="7,620 26,590 45,560 64,503 83,396 102,343 121,299.6 140,318.6 159,318.5 178,317.2 197,307.6 216,305.2 235,310 254,309.4 273,385 292,459.8 311,485.3 330,488.3 349,480.8 368,474 387,473 406,447 425,378 444,342.2 463,337 482,347.5 501,351.6 520,332 539,296 558,222 577,188.5 596,191.5 615,196.3 634,211.6 653,226.7 672,229.1 691,230.3 710,228 729,227.4 748,227.4 767,229.3 786,209.8 805,209 824,202 843,196 862,195.1 881,197.9 900,195.1 919,190.5 938,192.4 957,188.2 976,189.3 995,195.2 1014,217.3 1033,215.3 1052,209.4 1071,214.4 1090,216.3 1109,211.4 1128,190.7 1147,176.9 1166,232.3 1185,279" stroke="#000058" stroke-width="1"/>
</g>
<g clip-path="url(#cpMain)"><rect x="7" y="240" width="1" height="96" fill="#000"/><rect x="1" y="244" width="13" height="92" fill="#000"/><rect x="2" y="245" width="11" height="90" fill="#fff"/><rect x="26" y="232" width="1" height="50" fill="#000"/><rect x="20" y="235" width="13" height="13" fill="#000"/><rect x="21" y="236" width="11" height="11" fill="#fff"/><rect x="45" y="195" width="1" height="78" fill="#000"/><rect x="39" y="240" width="13" height="13" fill="#000"/><rect x="40" y="241" width="11" height="11" fill="#fff"/><rect x="64" y="228" width="1" height="82" fill="#000"/><rect x="58" y="257" width="13" height="42" fill="#000"/><rect x="59" y="258" width="11" height="40" fill="#636363"/><rect x="83" y="259" width="1" height="53" fill="#000"/><rect x="77" y="268" width="13" height="39" fill="#000"/><rect x="78" y="269" width="11" height="37" fill="#fff"/><rect x="102" y="216" width="1" height="75" fill="#000"/><rect x="96" y="239" width="13" height="47" fill="#000"/><rect x="97" y="240" width="11" height="45" fill="#fff"/><rect x="121" y="244" width="1" height="50" fill="#000"/><rect x="115" y="254" width="13" height="18" fill="#000"/><rect x="116" y="255" width="11" height="16" fill="#636363"/><rect x="140" y="268" width="1" height="54" fill="#000"/><rect x="134" y="278" width="13" height="30" fill="#000"/><rect x="135" y="279" width="11" height="28" fill="#636363"/><rect x="159" y="237" width="1" height="52" fill="#000"/><rect x="153" y="246" width="13" height="28" fill="#000"/><rect x="154" y="247" width="11" height="26" fill="#fff"/><rect x="178" y="231" width="1" height="28" fill="#000"/><rect x="172" y="240" width="13" height="5" fill="#000"/><rect x="173" y="241" width="11" height="3" fill="#636363"/><rect x="197" y="197" width="1" height="43" fill="#000"/><rect x="191" y="226" width="13" height="9" fill="#000"/><rect x="192" y="227" width="11" height="7" fill="#636363"/><rect x="216" y="203" width="1" height="33" fill="#000"/><rect x="210" y="219" width="13" height="6" fill="#000"/><rect x="211" y="220" width="11" height="4" fill="#fff"/><rect x="235" y="180" width="1" height="33" fill="#000"/><rect x="229" y="203" width="13" height="1" fill="#000"/><rect x="254" y="215" width="1" height="54" fill="#000"/><rect x="248" y="220" width="13" height="49" fill="#000"/><rect x="249" y="221" width="11" height="47" fill="#636363"/><rect x="273" y="292" width="1" height="120" fill="#000"/><rect x="267" y="294" width="13" height="104" fill="#000"/><rect x="268" y="295" width="11" height="102" fill="#636363"/><rect x="292" y="366" width="1" height="80" fill="#000"/><rect x="286" y="370" width="13" height="76" fill="#000"/><rect x="287" y="371" width="11" height="74" fill="#636363"/><rect x="311" y="360" width="1" height="131" fill="#000"/><rect x="305" y="369" width="13" height="92" fill="#000"/><rect x="306" y="370" width="11" height="90" fill="#fff"/><rect x="330" y="304" width="1" height="91" fill="#000"/><rect x="324" y="322" width="13" height="43" fill="#000"/><rect x="325" y="323" width="11" height="41" fill="#fff"/><rect x="349" y="257" width="1" height="69" fill="#000"/><rect x="343" y="262" width="13" height="38" fill="#000"/><rect x="344" y="263" width="11" height="36" fill="#fff"/><rect x="368" y="216" width="1" height="39" fill="#000"/><rect x="362" y="233" width="13" height="22" fill="#000"/><rect x="363" y="234" width="11" height="20" fill="#fff"/><rect x="387" y="217" width="1" height="73" fill="#000"/><rect x="381" y="224" width="13" height="56" fill="#000"/><rect x="382" y="225" width="11" height="54" fill="#636363"/><rect x="406" y="243" width="1" height="50" fill="#000"/><rect x="400" y="287" width="13" height="4" fill="#000"/><rect x="401" y="288" width="11" height="2" fill="#636363"/><rect x="425" y="237" width="1" height="116" fill="#000"/><rect x="419" y="290" width="13" height="18" fill="#000"/><rect x="420" y="291" width="11" height="16" fill="#636363"/><rect x="444" y="212" width="1" height="108" fill="#000"/><rect x="438" y="222" width="13" height="88" fill="#000"/><rect x="439" y="223" width="11" height="86" fill="#fff"/><rect x="463" y="143" width="1" height="84" fill="#000"/><rect x="457" y="177" width="13" height="34" fill="#000"/><rect x="458" y="178" width="11" height="32" fill="#fff"/><rect x="482" y="131" width="1" height="60" fill="#000"/><rect x="476" y="146" width="13" height="33" fill="#000"/><rect x="477" y="147" width="11" height="31" fill="#fff"/><rect x="501" y="136" width="1" height="46" fill="#000"/><rect x="495" y="148" width="13" height="14" fill="#000"/><rect x="496" y="149" width="11" height="12" fill="#fff"/><rect x="520" y="103" width="1" height="73" fill="#000"/><rect x="514" y="133" width="13" height="18" fill="#000"/><rect x="515" y="134" width="11" height="16" fill="#636363"/><rect x="539" y="166" width="1" height="44" fill="#000"/><rect x="533" y="166" width="13" height="16" fill="#000"/><rect x="534" y="167" width="11" height="14" fill="#636363"/><rect x="558" y="131" width="1" height="50" fill="#000"/><rect x="552" y="171" width="13" height="3" fill="#000"/><rect x="553" y="172" width="11" height="1" fill="#fff"/><rect x="577" y="141" width="1" height="32" fill="#000"/><rect x="571" y="158" width="13" height="4" fill="#000"/><rect x="572" y="159" width="11" height="2" fill="#fff"/><rect x="596" y="170" width="1" height="47" fill="#000"/><rect x="590" y="173" width="13" height="11" fill="#000"/><rect x="591" y="174" width="11" height="9" fill="#636363"/><rect x="615" y="152" width="1" height="45" fill="#000"/><rect x="609" y="161" width="13" height="21" fill="#000"/><rect x="610" y="162" width="11" height="19" fill="#636363"/><rect x="634" y="164" width="1" height="44" fill="#000"/><rect x="628" y="166" width="13" height="42" fill="#000"/><rect x="629" y="167" width="11" height="40" fill="#636363"/><rect x="653" y="194" width="1" height="42" fill="#000"/><rect x="647" y="200" width="13" height="23" fill="#000"/><rect x="648" y="201" width="11" height="21" fill="#636363"/><rect x="672" y="158" width="1" height="52" fill="#000"/><rect x="666" y="161" width="13" height="49" fill="#000"/><rect x="667" y="162" width="11" height="47" fill="#fff"/><rect x="691" y="163" width="1" height="38" fill="#000"/><rect x="685" y="183" width="13" height="8" fill="#000"/><rect x="686" y="184" width="11" height="6" fill="#636363"/><rect x="710" y="112" width="1" height="68" fill="#000"/><rect x="704" y="165" width="13" height="11" fill="#000"/><rect x="705" y="166" width="11" height="9" fill="#636363"/><rect x="729" y="162" width="1" height="40" fill="#000"/><rect x="723" y="177" width="13" height="17" fill="#000"/><rect x="724" y="178" width="11" height="15" fill="#fff"/><rect x="748" y="153" width="1" height="39" fill="#000"/><rect x="742" y="163" width="13" height="17" fill="#000"/><rect x="743" y="164" width="11" height="15" fill="#636363"/><rect x="767" y="120" width="1" height="72" fill="#000"/><rect x="761" y="130" width="13" height="57" fill="#000"/><rect x="762" y="131" width="11" height="55" fill="#fff"/><rect x="786" y="99" width="1" height="42" fill="#000"/><rect x="780" y="130" width="13" height="1" fill="#000"/><rect x="805" y="120" width="1" height="45" fill="#000"/><rect x="799" y="134" width="13" height="31" fill="#000"/><rect x="800" y="135" width="11" height="29" fill="#636363"/><rect x="824" y="140" width="1" height="37" fill="#000"/><rect x="818" y="157" width="13" height="13" fill="#000"/><rect x="819" y="158" width="11" height="11" fill="#636363"/><rect x="843" y="130" width="1" height="40" fill="#000"/><rect x="837" y="143" width="13" height="27" fill="#000"/><rect x="838" y="144" width="11" height="25" fill="#fff"/><rect x="862" y="122" width="1" height="53" fill="#000"/><rect x="856" y="140" width="13" height="35" fill="#000"/><rect x="857" y="141" width="11" height="33" fill="#636363"/><rect x="881" y="173" width="1" height="28" fill="#000"/><rect x="875" y="181" width="13" height="3" fill="#000"/><rect x="876" y="182" width="11" height="1" fill="#636363"/><rect x="900" y="140" width="1" height="54" fill="#000"/><rect x="894" y="146" width="13" height="27" fill="#000"/><rect x="895" y="147" width="11" height="25" fill="#fff"/><rect x="919" y="90" width="1" height="67" fill="#000"/><rect x="913" y="135" width="13" height="16" fill="#000"/><rect x="914" y="136" width="11" height="14" fill="#636363"/><rect x="938" y="126" width="1" height="42" fill="#000"/><rect x="932" y="131" width="13" height="28" fill="#000"/><rect x="933" y="132" width="11" height="26" fill="#fff"/><rect x="957" y="138" width="1" height="27" fill="#000"/><rect x="951" y="144" width="13" height="10" fill="#000"/><rect x="952" y="145" width="11" height="8" fill="#fff"/><rect x="976" y="130" width="1" height="34" fill="#000"/><rect x="970" y="136" width="13" height="22" fill="#000"/><rect x="971" y="137" width="11" height="20" fill="#636363"/><rect x="995" y="154" width="1" height="41" fill="#000"/><rect x="989" y="165" width="13" height="22" fill="#000"/><rect x="990" y="166" width="11" height="20" fill="#636363"/><rect x="1014" y="17" width="1" height="104" fill="#000"/><rect x="1008" y="49" width="13" height="66" fill="#000"/><rect x="1009" y="50" width="11" height="64" fill="#fff"/><rect x="1033" y="70" width="1" height="60" fill="#000"/><rect x="1027" y="72" width="13" height="21" fill="#000"/><rect x="1028" y="73" width="11" height="19" fill="#636363"/><rect x="1052" y="61" width="1" height="66" fill="#000"/><rect x="1046" y="113" width="13" height="8" fill="#000"/><rect x="1047" y="114" width="11" height="6" fill="#636363"/><rect x="1071" y="105" width="1" height="78" fill="#000"/><rect x="1065" y="117" width="13" height="35" fill="#000"/><rect x="1066" y="118" width="11" height="33" fill="#636363"/><rect x="1090" y="146" width="1" height="43" fill="#000"/><rect x="1084" y="152" width="13" height="20" fill="#000"/><rect x="1085" y="153" width="11" height="18" fill="#fff"/><rect x="1109" y="126" width="1" height="32" fill="#000"/><rect x="1103" y="131" width="13" height="9" fill="#000"/><rect x="1104" y="132" width="11" height="7" fill="#636363"/><rect x="1128" y="137" width="1" height="29" fill="#000"/><rect x="1122" y="139" width="13" height="12" fill="#000"/><rect x="1123" y="140" width="11" height="10" fill="#fff"/><rect x="1147" y="131" width="1" height="31" fill="#000"/><rect x="1141" y="134" width="13" height="17" fill="#000"/><rect x="1142" y="135" width="11" height="15" fill="#636363"/><rect x="1166" y="172" width="1" height="81" fill="#000"/><rect x="1160" y="177" width="13" height="71" fill="#000"/><rect x="1161" y="178" width="11" height="69" fill="#636363"/><rect x="1185" y="220" width="1" height="67" fill="#000"/><rect x="1179" y="225" width="13" height="44" fill="#000"/><rect x="1180" y="226" width="11" height="42" fill="#636363"/></g>
<g clip-path="url(#cpSto)" fill="none">
<line x1="0" y1="525.5" x2="1214" y2="525.5" stroke="#d01010" stroke-width="1" stroke-dasharray="3 3" shape-rendering="crispEdges"/>
<line x1="0" y1="554.5" x2="1214" y2="554.5" stroke="#0000ee" stroke-width="1" stroke-dasharray="3 3" shape-rendering="crispEdges"/>
<polyline points="-12,523.5 7,517 26,513.6 45,514.6 64,517.8 83,519.9 102,523.1 121,523.6 140,524.6 159,525.5 178,523.1 197,520.5 216,518.5 235,517.2 254,524.6 273,539.2 292,556.4 311,552.7 330,550.2 349,544.1 368,536.8 387,529.4 406,527.5 425,530.7 444,529.4 463,525.8 482,519.7 501,518 520,518 539,519.7 558,522.1 577,523.3 596,525.3 615,527 634,529.4 653,533.1 672,533.1 691,533.1 710,534.3 729,538 748,540.5 767,537 786,532 805,530.2 824,532.6 843,535.1 862,536.8 881,538 900,538.5 919,538 938,535.1 957,536.8 976,538 995,546.5 1014,543 1033,540.5 1052,539 1071,539.6 1090,541 1109,548.6 1128,549.7 1147,550 1166,555.5 1185,558.5" stroke="#ff8000" stroke-width="1"/>
<polyline points="-12,531 7,524.6 26,519.8 45,516 64,517.3 83,523.3 102,523.9 121,523.1 140,523.6 159,524.7 178,523.9 197,521.6 216,519 235,517.7 254,522.1 273,534.3 292,555.1 311,555.1 330,549 349,541.7 368,534.3 387,528.2 406,527 425,529.4 444,528.2 463,524.6 482,518.4 501,516.7 520,516.7 539,518.4 558,520.9 577,522.1 596,524.1 615,525.8 634,528.2 653,531.9 672,531.9 691,531.9 710,533.1 729,536.8 748,539.2 767,535.6 786,530.7 805,529 824,531.4 843,533.9 862,535.6 881,536.8 900,537.3 919,536.8 938,533.9 957,535.6 976,536.8 995,545.3 1014,541.7 1033,539.2 1052,537.6 1071,538.4 1090,539.8 1109,547.6 1128,548.7 1147,549 1166,554 1185,557.5" stroke="#ff8000" stroke-width="1"/>
<polyline points="-12,519 7,514 26,513.5 45,514.5 64,516.5 83,519.6 102,522 121,522.7 140,523.1 159,523.9 178,522.4 197,521 216,520.5 235,518.5 254,519.7 273,527 292,539.2 311,545.3 330,544.1 349,536.8 368,529.4 387,525.8 406,526.5 425,528.2 444,525.8 463,522.1 482,518.4 501,517 520,517 539,518.7 558,520.2 577,521.9 596,523.1 615,523.1 634,524.3 653,526 672,526 691,525.6 710,525.6 729,526.8 748,527.5 767,525.6 786,523.1 805,522 824,524 843,526 862,530 881,533.5 900,537.5 919,537 938,533 957,532.5 976,533.5 995,538 1014,536 1033,534.5 1052,532 1071,536.5 1090,541 1109,547.5 1128,549 1147,549.5 1166,552.5 1185,555.5" stroke="#ff0000" stroke-width="1"/>
<polyline points="-12,525.6 7,520.2 26,517.2 45,515.1 64,515.8 83,519 102,521.6 121,522 140,522.8 159,523.1 178,523.6 197,520.5 216,519.7 235,517.7 254,518.4 273,522.1 292,529.4 311,539.2 330,542.9 349,538 368,531.9 387,527 406,525.8 425,527 444,524.6 463,520.9 482,517.2 501,516 520,516 539,517.7 558,519.2 577,520.9 596,522.1 615,522.1 634,523.3 653,525 672,525 691,524.6 710,524.6 729,525.8 748,526.5 767,524.6 786,522.1 805,520.9 824,522.6 843,524.6 862,528.2 881,531.9 900,536.3 919,536.3 938,531.4 957,531.4 976,532.4 995,536.8 1014,534.3 1033,533.1 1052,530.6 1071,534.8 1090,539 1109,546.2 1128,548.3 1147,548.7 1166,551.1 1185,554" stroke="#ff0000" stroke-width="1"/>
<polyline points="-12,524 7,515 26,513.5 45,517 64,521.3 83,524.8 102,525.5 121,530.2 140,539.7 159,544.1 178,538.9 197,528 216,524.6 235,523.3 254,529.4 273,542.9 292,556.8 311,541.7 330,535.6 349,530.7 368,525.8 387,523.3 406,524.6 425,527 444,524.6 463,522.1 482,516 501,516.7 520,519.7 539,523.3 558,527 577,531.9 596,536.8 615,542.9 634,550.2 653,555.1 672,549 691,542.9 710,539.2 729,539.2 748,540.5 767,533.1 786,529.4 805,530.7 824,540.5 843,542.9 862,547.1 881,548.5 900,549 919,544.1 938,536.3 957,536.3 976,536.8 995,541.7 1014,541.2 1033,536.8 1052,533.2 1071,543.3 1090,547.6 1109,550.1 1128,550.1 1147,549.3 1166,555.4 1185,557.5" stroke="#008000" stroke-width="1"/>
<polyline points="-12,520.3 7,513.5 26,514.3 45,520 64,529.3 83,526.8 102,526.3 121,542.2 140,558.3 159,533.4 178,526.3 197,528 216,525.3 235,523.3 254,546.6 273,561.2 292,564.4 311,544.1 330,535.6 349,525.8 368,515.5 387,522.6 406,522.6 425,528.2 444,515.5 463,520.9 482,515.5 501,516 520,519.7 539,528.2 558,528.2 577,535.6 596,549 615,548.5 634,561.2 653,558.8 672,527.5 691,539.2 710,535.6 729,539.2 748,540.5 767,519.7 786,525.8 805,545.3 824,548.5 843,534.3 862,553.9 881,555.1 900,536.8 919,536.8 938,530.7 957,535.6 976,541.7 995,556.8 1014,521.6 1033,534.3 1052,532.5 1071,551.8 1090,551.8 1109,549.7 1128,549.7 1147,549.7 1166,563.2 1185,559.7" stroke="#008000" stroke-width="1"/>
</g>
<g clip-path="url(#cpMacd)"><rect x="3" y="619" width="9" height="3" fill="#008000"/><rect x="22" y="619" width="9" height="3" fill="#008000"/><rect x="41" y="619" width="9" height="3" fill="#008000"/><rect x="60" y="619" width="9" height="3" fill="#008000"/><rect x="79" y="619" width="9" height="3" fill="#008000"/><rect x="98" y="619" width="9" height="3" fill="#008000"/><rect x="117" y="620" width="9" height="2" fill="#008000"/><rect x="136" y="620" width="9" height="2" fill="#008000"/><rect x="155" y="621" width="9" height="1" fill="#008000"/><rect x="174" y="621" width="9" height="1" fill="#008000"/><rect x="193" y="621" width="9" height="1" fill="#008000"/><rect x="212" y="621" width="9" height="1" fill="#008000"/><rect x="231" y="621" width="9" height="1" fill="#008000"/><rect x="250" y="621" width="9" height="1" fill="#008000"/><rect x="269" y="622" width="9" height="2" fill="#008000"/><rect x="288" y="622" width="9" height="2" fill="#008000"/><rect x="307" y="622" width="9" height="1" fill="#008000"/><rect x="326" y="622" width="9" height="1" fill="#008000"/><rect x="459" y="621" width="9" height="1" fill="#008000"/><rect x="478" y="621" width="9" height="1" fill="#008000"/><rect x="497" y="620" width="9" height="2" fill="#008000"/><rect x="516" y="620" width="9" height="2" fill="#008000"/><rect x="535" y="621" width="9" height="1" fill="#008000"/><rect x="554" y="621" width="9" height="1" fill="#008000"/><rect x="573" y="621" width="9" height="1" fill="#008000"/><rect x="592" y="621" width="9" height="1" fill="#008000"/><rect x="1010" y="621" width="9" height="1" fill="#008000"/><rect x="1029" y="621" width="9" height="1" fill="#008000"/><rect x="1048" y="621" width="9" height="1" fill="#008000"/><rect x="1162" y="622" width="9" height="1" fill="#008000"/><rect x="1181" y="622" width="9" height="1" fill="#008000"/><rect x="2" y="619" width="15" height="1" fill="#0000ff"/><rect x="17" y="618" width="19" height="1" fill="#0000ff"/><rect x="17" y="618" width="1" height="2" fill="#0000ff"/><rect x="36" y="617" width="19" height="1" fill="#0000ff"/><rect x="36" y="617" width="1" height="2" fill="#0000ff"/><rect x="55" y="617" width="19" height="1" fill="#0000ff"/><rect x="74" y="617" width="19" height="1" fill="#0000ff"/><rect x="93" y="616" width="19" height="1" fill="#0000ff"/><rect x="93" y="616" width="1" height="2" fill="#0000ff"/><rect x="112" y="616" width="19" height="1" fill="#0000ff"/><rect x="131" y="617" width="19" height="1" fill="#0000ff"/><rect x="131" y="616" width="1" height="2" fill="#0000ff"/><rect x="150" y="617" width="19" height="1" fill="#0000ff"/><rect x="169" y="616" width="19" height="1" fill="#0000ff"/><rect x="169" y="616" width="1" height="2" fill="#0000ff"/><rect x="188" y="616" width="19" height="1" fill="#0000ff"/><rect x="207" y="616" width="19" height="1" fill="#0000ff"/><rect x="226" y="616" width="19" height="1" fill="#0000ff"/><rect x="245" y="616" width="19" height="1" fill="#0000ff"/><rect x="264" y="618" width="19" height="1" fill="#0000ff"/><rect x="264" y="616" width="1" height="3" fill="#0000ff"/><rect x="283" y="619" width="19" height="1" fill="#0000ff"/><rect x="283" y="618" width="1" height="2" fill="#0000ff"/><rect x="302" y="620" width="19" height="1" fill="#0000ff"/><rect x="302" y="619" width="1" height="2" fill="#0000ff"/><rect x="321" y="620" width="19" height="1" fill="#0000ff"/><rect x="340" y="620" width="19" height="1" fill="#0000ff"/><rect x="359" y="619" width="19" height="1" fill="#0000ff"/><rect x="359" y="619" width="1" height="2" fill="#0000ff"/><rect x="378" y="619" width="19" height="1" fill="#0000ff"/><rect x="397" y="620" width="19" height="1" fill="#0000ff"/><rect x="397" y="619" width="1" height="2" fill="#0000ff"/><rect x="416" y="620" width="19" height="1" fill="#0000ff"/><rect x="435" y="619" width="19" height="1" fill="#0000ff"/><rect x="435" y="619" width="1" height="2" fill="#0000ff"/><rect x="454" y="619" width="19" height="1" fill="#0000ff"/><rect x="473" y="618" width="19" height="1" fill="#0000ff"/><rect x="473" y="618" width="1" height="2" fill="#0000ff"/><rect x="492" y="617" width="19" height="1" fill="#0000ff"/><rect x="492" y="617" width="1" height="2" fill="#0000ff"/><rect x="511" y="617" width="19" height="1" fill="#0000ff"/><rect x="530" y="617" width="19" height="1" fill="#0000ff"/><rect x="549" y="617" width="19" height="1" fill="#0000ff"/><rect x="568" y="617" width="19" height="1" fill="#0000ff"/><rect x="587" y="617" width="19" height="1" fill="#0000ff"/><rect x="606" y="617" width="19" height="1" fill="#0000ff"/><rect x="625" y="618" width="19" height="1" fill="#0000ff"/><rect x="625" y="617" width="1" height="2" fill="#0000ff"/><rect x="644" y="618" width="19" height="1" fill="#0000ff"/><rect x="663" y="618" width="19" height="1" fill="#0000ff"/><rect x="682" y="618" width="19" height="1" fill="#0000ff"/><rect x="701" y="619" width="19" height="1" fill="#0000ff"/><rect x="701" y="618" width="1" height="2" fill="#0000ff"/><rect x="720" y="619" width="19" height="1" fill="#0000ff"/><rect x="739" y="619" width="19" height="1" fill="#0000ff"/><rect x="758" y="619" width="19" height="1" fill="#0000ff"/><rect x="777" y="618" width="19" height="1" fill="#0000ff"/><rect x="777" y="618" width="1" height="2" fill="#0000ff"/><rect x="796" y="619" width="19" height="1" fill="#0000ff"/><rect x="796" y="618" width="1" height="2" fill="#0000ff"/><rect x="815" y="619" width="19" height="1" fill="#0000ff"/><rect x="834" y="619" width="19" height="1" fill="#0000ff"/><rect x="853" y="619" width="19" height="1" fill="#0000ff"/><rect x="872" y="619" width="19" height="1" fill="#0000ff"/><rect x="891" y="619" width="19" height="1" fill="#0000ff"/><rect x="910" y="619" width="19" height="1" fill="#0000ff"/><rect x="929" y="619" width="19" height="1" fill="#0000ff"/><rect x="948" y="619" width="19" height="1" fill="#0000ff"/><rect x="967" y="620" width="19" height="1" fill="#0000ff"/><rect x="967" y="619" width="1" height="2" fill="#0000ff"/><rect x="986" y="620" width="19" height="1" fill="#0000ff"/><rect x="1005" y="619" width="19" height="1" fill="#0000ff"/><rect x="1005" y="619" width="1" height="2" fill="#0000ff"/><rect x="1024" y="619" width="19" height="1" fill="#0000ff"/><rect x="1043" y="619" width="19" height="1" fill="#0000ff"/><rect x="1062" y="619" width="19" height="1" fill="#0000ff"/><rect x="1081" y="620" width="19" height="1" fill="#0000ff"/><rect x="1081" y="619" width="1" height="2" fill="#0000ff"/><rect x="1100" y="620" width="19" height="1" fill="#0000ff"/><rect x="1119" y="620" width="19" height="1" fill="#0000ff"/><rect x="1138" y="620" width="19" height="1" fill="#0000ff"/><rect x="1157" y="621" width="19" height="1" fill="#0000ff"/><rect x="1157" y="620" width="1" height="2" fill="#0000ff"/><rect x="1176" y="622" width="10" height="1" fill="#0000ff"/><rect x="1176" y="621" width="1" height="2" fill="#0000ff"/><rect x="2" y="622" width="15" height="1" fill="#ff0000"/><rect x="17" y="621" width="19" height="1" fill="#ff0000"/><rect x="17" y="621" width="1" height="2" fill="#ff0000"/><rect x="36" y="620" width="19" height="1" fill="#ff0000"/><rect x="36" y="620" width="1" height="2" fill="#ff0000"/><rect x="55" y="620" width="19" height="1" fill="#ff0000"/><rect x="74" y="619" width="19" height="1" fill="#ff0000"/><rect x="74" y="619" width="1" height="2" fill="#ff0000"/><rect x="93" y="619" width="19" height="1" fill="#ff0000"/><rect x="112" y="618" width="19" height="1" fill="#ff0000"/><rect x="112" y="618" width="1" height="2" fill="#ff0000"/><rect x="131" y="618" width="19" height="1" fill="#ff0000"/><rect x="150" y="618" width="19" height="1" fill="#ff0000"/><rect x="169" y="617" width="19" height="1" fill="#ff0000"/><rect x="169" y="617" width="1" height="2" fill="#ff0000"/><rect x="188" y="617" width="19" height="1" fill="#ff0000"/><rect x="207" y="617" width="19" height="1" fill="#ff0000"/><rect x="226" y="617" width="19" height="1" fill="#ff0000"/><rect x="245" y="617" width="19" height="1" fill="#ff0000"/><rect x="264" y="617" width="19" height="1" fill="#ff0000"/><rect x="283" y="617" width="19" height="1" fill="#ff0000"/><rect x="302" y="618" width="19" height="1" fill="#ff0000"/><rect x="302" y="617" width="1" height="2" fill="#ff0000"/><rect x="321" y="618" width="19" height="1" fill="#ff0000"/><rect x="340" y="619" width="19" height="1" fill="#ff0000"/><rect x="340" y="618" width="1" height="2" fill="#ff0000"/><rect x="359" y="619" width="19" height="1" fill="#ff0000"/><rect x="378" y="619" width="19" height="1" fill="#ff0000"/><rect x="397" y="619" width="19" height="1" fill="#ff0000"/><rect x="416" y="619" width="19" height="1" fill="#ff0000"/><rect x="435" y="619" width="19" height="1" fill="#ff0000"/><rect x="454" y="619" width="19" height="1" fill="#ff0000"/><rect x="473" y="619" width="19" height="1" fill="#ff0000"/><rect x="492" y="619" width="19" height="1" fill="#ff0000"/><rect x="511" y="619" width="19" height="1" fill="#ff0000"/><rect x="530" y="619" width="19" height="1" fill="#ff0000"/><rect x="549" y="619" width="19" height="1" fill="#ff0000"/><rect x="568" y="619" width="19" height="1" fill="#ff0000"/><rect x="587" y="618" width="19" height="1" fill="#ff0000"/><rect x="587" y="618" width="1" height="2" fill="#ff0000"/><rect x="606" y="618" width="19" height="1" fill="#ff0000"/><rect x="625" y="618" width="19" height="1" fill="#ff0000"/><rect x="644" y="618" width="19" height="1" fill="#ff0000"/><rect x="663" y="618" width="19" height="1" fill="#ff0000"/><rect x="682" y="618" width="19" height="1" fill="#ff0000"/><rect x="701" y="618" width="19" height="1" fill="#ff0000"/><rect x="720" y="618" width="19" height="1" fill="#ff0000"/><rect x="739" y="618" width="19" height="1" fill="#ff0000"/><rect x="758" y="618" width="19" height="1" fill="#ff0000"/><rect x="777" y="618" width="19" height="1" fill="#ff0000"/><rect x="796" y="618" width="19" height="1" fill="#ff0000"/><rect x="815" y="618" width="19" height="1" fill="#ff0000"/><rect x="834" y="619" width="19" height="1" fill="#ff0000"/><rect x="834" y="618" width="1" height="2" fill="#ff0000"/><rect x="853" y="619" width="19" height="1" fill="#ff0000"/><rect x="872" y="619" width="19" height="1" fill="#ff0000"/><rect x="891" y="619" width="19" height="1" fill="#ff0000"/><rect x="910" y="619" width="19" height="1" fill="#ff0000"/><rect x="929" y="619" width="19" height="1" fill="#ff0000"/><rect x="948" y="619" width="19" height="1" fill="#ff0000"/><rect x="967" y="619" width="19" height="1" fill="#ff0000"/><rect x="986" y="619" width="19" height="1" fill="#ff0000"/><rect x="1005" y="619" width="19" height="1" fill="#ff0000"/><rect x="1024" y="619" width="19" height="1" fill="#ff0000"/><rect x="1043" y="619" width="19" height="1" fill="#ff0000"/><rect x="1062" y="619" width="19" height="1" fill="#ff0000"/><rect x="1081" y="619" width="19" height="1" fill="#ff0000"/><rect x="1100" y="619" width="19" height="1" fill="#ff0000"/><rect x="1119" y="620" width="19" height="1" fill="#ff0000"/><rect x="1119" y="619" width="1" height="2" fill="#ff0000"/><rect x="1138" y="620" width="19" height="1" fill="#ff0000"/><rect x="1157" y="620" width="19" height="1" fill="#ff0000"/><rect x="1176" y="620" width="10" height="1" fill="#ff0000"/></g>
<line x1="2" y1="722.5" x2="1215" y2="722.5" stroke="#707070" stroke-width="1"/>
<g clip-path="url(#cpAdx)" fill="none" stroke-linejoin="round">
<polyline points="-12,719 7,719 26,720.6 45,720.6 64,711.8 83,714.8 102,717.8 121,717.8 140,709.2 159,714 178,717.3 197,719 216,720.3 235,720.6 254,698.4 273,684 292,689.5 311,695.9 330,706 349,712.3 368,716 387,709.7 406,711.5 425,706 444,711 463,716.5 482,718.6 501,719.3 520,719.3 539,705.2 558,711.5 577,715.5 596,700.9 615,709 634,709 653,701.4 672,709.7 691,714 710,717.3 729,707.2 748,711 767,715.5 786,718 805,708.5 824,708 843,712.3 862,715.5 881,700.4 900,708.5 919,713.5 938,712.3 957,716.5 976,717.8 995,704.2 1014,711 1033,711.5 1052,716 1071,704.2 1090,707.2 1109,712.3 1128,711 1147,714.8 1166,694.6 1185,694.6" stroke="#ff0000" stroke-width="2"/>
<polyline points="-12,690 7,688.3 26,698.4 45,698.4 64,708.5 83,712.3 102,704.7 121,711 140,714.8 159,706.7 178,707.7 197,697.1 216,707.2 235,697.9 254,707.2 273,713 292,716.5 311,717.8 330,707.2 349,700.4 368,687.5 387,702.2 406,709.7 425,713.5 444,711.5 463,699.1 482,704.7 501,711 520,706.5 539,711.5 558,702.2 577,710.5 596,713.5 615,709.7 634,714 653,717.3 672,706 691,710.5 710,699.6 729,708.5 748,708.5 767,704.7 786,701.4 805,708.5 824,713.5 843,712.3 862,713 881,717.3 900,707.2 919,697.1 938,707.2 957,712.3 976,712.3 995,715.5 1014,690.8 1033,702.2 1052,707.2 1071,712.3 1090,717.3 1109,706 1128,710.5 1147,711.5 1166,714.8 1185,718" stroke="#0000ff" stroke-width="2"/>
<polyline points="-12,691 7,688.8 26,684 45,680.2 64,693.3 83,702.2 102,697.1 121,697.1 140,700.9 159,700.9 178,699.6 197,692 216,687 235,682 254,694.1 273,692 292,689.5 311,686.5 330,699.6 349,699.6 368,694.6 387,700.9 406,704.7 425,704.7 444,711.5 463,702.9 482,697.1 501,693.3 520,687.8 539,695.4 558,699.1 577,700.9 596,699.6 615,706.5 634,706.5 653,700.4 672,706 691,709 710,701.4 729,708 748,709.7 767,702.2 786,696.4 805,706 824,706 843,710.5 862,711 881,701.4 900,707.2 919,703.4 938,706.5 957,708 976,704 995,701.4 1014,699.6 1033,701.4 1052,701.4 1071,701.4 1090,700.9 1109,702.2 1128,709 1147,709 1166,700.9 1185,695.4" stroke="#008000" stroke-width="2"/>
</g>
<g clip-path="url(#cpRsi)" fill="none">
<line x1="0" y1="747.5" x2="1214" y2="747.5" stroke="#d01010" stroke-width="1" stroke-dasharray="3 3"/>
<line x1="0" y1="803.5" x2="1214" y2="803.5" stroke="#0000ee" stroke-width="1" stroke-dasharray="3 3"/>
<polyline points="-12,761 7,750.1 26,749.4 45,750.6 64,763.3 83,759.5 102,756.5 121,764 140,771.6 159,762.3 178,761.5 197,760.2 216,757.2 235,755.2 254,774.1 273,793.5 292,798.1 311,783 330,775.4 349,767.3 368,764.5 387,772.3 406,773.4 425,776.1 444,763.3 463,758.5 482,754.2 501,755.2 520,755.2 539,764.5 558,762.8 577,760.2 596,768.3 615,767.3 634,775.9 653,780.4 672,764.5 691,772.3 710,769.3 729,769.3 748,770.3 767,757.7 786,757.7 805,771.1 824,773.4 843,765.8 862,775.9 881,779.2 900,767.3 919,768.3 938,763.3 957,767.8 976,774.1 995,784.2 1014,752.7 1033,764.8 1052,770.8 1071,778.4 1090,778.4 1109,775.4 1128,774.1 1147,778.4 1166,798.1 1185,801.1" stroke="#0000ff" stroke-width="1"/>
</g>
<rect x="0" y="0" width="1268" height="1" fill="#000"/><rect x="0" y="499" width="1268" height="2" fill="#000"/><rect x="0" y="580" width="1268" height="2" fill="#000"/><rect x="0" y="660" width="1268" height="2" fill="#000"/><rect x="0" y="731" width="1268" height="2" fill="#000"/><rect x="0" y="818" width="1268" height="1" fill="#000"/><rect x="0" y="821" width="1216" height="1" fill="#000"/><rect x="0" y="0" width="1" height="834" fill="#000"/><rect x="1215" y="0" width="1" height="822" fill="#000"/><rect x="1267" y="0" width="1" height="819" fill="#000"/><rect x="83" y="822" width="1" height="12" fill="#000"/><rect x="178" y="822" width="1" height="12" fill="#000"/><rect x="273" y="822" width="1" height="12" fill="#000"/><rect x="368" y="822" width="1" height="12" fill="#000"/><rect x="463" y="822" width="1" height="12" fill="#000"/><rect x="558" y="822" width="1" height="12" fill="#000"/><rect x="653" y="822" width="1" height="12" fill="#000"/><rect x="748" y="822" width="1" height="12" fill="#000"/><rect x="843" y="822" width="1" height="12" fill="#000"/><rect x="938" y="822" width="1" height="12" fill="#000"/><rect x="1033" y="822" width="1" height="12" fill="#000"/><rect x="1128" y="822" width="1" height="12" fill="#000"/>
<text x="1265" y="118" text-anchor="end" font-family="Liberation Sans" font-weight="bold" font-size="9.6" fill="#000" letter-spacing="0.45">95.00</text><text x="1265" y="432" text-anchor="end" font-family="Liberation Sans" font-weight="bold" font-size="9.6" fill="#000" letter-spacing="0.45">85.00</text><text x="1265" y="516" text-anchor="end" font-family="Liberation Sans" font-weight="bold" font-size="9.6" fill="#000" letter-spacing="0.45">100.00</text><text x="1265" y="542" text-anchor="end" font-family="Liberation Sans" font-weight="bold" font-size="9.6" fill="#000" letter-spacing="0.45">50.00</text><text x="1265" y="568" text-anchor="end" font-family="Liberation Sans" font-weight="bold" font-size="9.6" fill="#000" letter-spacing="0.45">0.00</text><text x="1265" y="610" text-anchor="end" font-family="Liberation Sans" font-weight="bold" font-size="9.6" fill="#000" letter-spacing="0.45">5.00</text><text x="1265" y="641" text-anchor="end" font-family="Liberation Sans" font-weight="bold" font-size="9.6" fill="#000" letter-spacing="0.45">-5.00</text><text x="1265" y="675" text-anchor="end" font-family="Liberation Sans" font-weight="bold" font-size="9.6" fill="#000" letter-spacing="0.45">100.00</text><text x="1265" y="726" text-anchor="end" font-family="Liberation Sans" font-weight="bold" font-size="9.6" fill="#000" letter-spacing="0.45">0.00</text><text x="1265" y="746" text-anchor="end" font-family="Liberation Sans" font-weight="bold" font-size="9.6" fill="#000" letter-spacing="0.45">80.00</text><text x="1265" y="767" text-anchor="end" font-family="Liberation Sans" font-weight="bold" font-size="9.6" fill="#000" letter-spacing="0.45">60.00</text><text x="1265" y="790" text-anchor="end" font-family="Liberation Sans" font-weight="bold" font-size="9.6" fill="#000" letter-spacing="0.45">40.00</text><text x="1265" y="812" text-anchor="end" font-family="Liberation Sans" font-weight="bold" font-size="9.6" fill="#000" letter-spacing="0.45">20.00</text><rect x="1216" y="71" width="50" height="1" fill="#fff"/><rect x="1216" y="72" width="50" height="1" fill="#000"/><rect x="1266" y="72" width="1" height="1" fill="#000"/><rect x="1216" y="73" width="50" height="10" fill="#00005e"/><rect x="1266" y="73" width="1" height="10" fill="#000"/><rect x="1216" y="83" width="50" height="1" fill="#000"/><rect x="1266" y="83" width="1" height="1" fill="#000"/><rect x="1216" y="84" width="50" height="1" fill="#fff"/><text x="1265" y="82" text-anchor="end" font-family="Liberation Sans" font-weight="bold" font-size="9.6" fill="#fff" letter-spacing="0.45">96.17</text><rect x="1216" y="145" width="50" height="1" fill="#fff"/><rect x="1216" y="146" width="50" height="1" fill="#000"/><rect x="1266" y="146" width="1" height="1" fill="#000"/><rect x="1216" y="147" width="50" height="3" fill="#9090ff"/><rect x="1266" y="147" width="1" height="3" fill="#000"/><rect x="1216" y="150" width="50" height="1" fill="#000"/><rect x="1266" y="150" width="1" height="1" fill="#000"/><rect x="1216" y="151" width="50" height="10" fill="#960000"/><rect x="1266" y="151" width="1" height="10" fill="#000"/><rect x="1216" y="161" width="50" height="1" fill="#000"/><rect x="1266" y="161" width="1" height="1" fill="#000"/><rect x="1216" y="162" width="50" height="1" fill="#fff"/><text x="1265" y="160" text-anchor="end" font-family="Liberation Sans" font-weight="bold" font-size="9.6" fill="#fff" letter-spacing="0.45">93.68</text><rect x="1216" y="248" width="50" height="1" fill="#fff"/><rect x="1216" y="249" width="50" height="1" fill="#000"/><rect x="1266" y="249" width="1" height="1" fill="#000"/><rect x="1216" y="250" width="50" height="10" fill="#8a10ff"/><rect x="1266" y="250" width="1" height="10" fill="#000"/><rect x="1216" y="260" width="50" height="1" fill="#000"/><rect x="1266" y="260" width="1" height="1" fill="#000"/><rect x="1216" y="261" width="50" height="1" fill="#fff"/><text x="1265" y="259" text-anchor="end" font-family="Liberation Sans" font-weight="bold" font-size="9.6" fill="#fff" letter-spacing="0.45">90.53</text><rect x="1216" y="262" width="50" height="14" fill="#000"/><rect x="1266" y="262" width="1" height="14" fill="#000"/><text x="1265" y="273" text-anchor="end" font-family="Liberation Sans" font-weight="bold" font-size="9.6" fill="#fff" letter-spacing="0.45">90.09</text><rect x="1216" y="276" width="50" height="10" fill="#00005e"/><rect x="1266" y="276" width="1" height="10" fill="#000"/><rect x="1216" y="286" width="50" height="1" fill="#000"/><rect x="1266" y="286" width="1" height="1" fill="#000"/><rect x="1216" y="287" width="50" height="1" fill="#fff"/><text x="1265" y="285" text-anchor="end" font-family="Liberation Sans" font-weight="bold" font-size="9.6" fill="#fff" letter-spacing="0.45">89.72</text><rect x="1216" y="301" width="50" height="1" fill="#fff"/><rect x="1216" y="302" width="50" height="1" fill="#000"/><rect x="1266" y="302" width="1" height="1" fill="#000"/><rect x="1216" y="303" width="50" height="10" fill="#00ff00"/><rect x="1266" y="303" width="1" height="10" fill="#000"/><rect x="1216" y="313" width="50" height="1" fill="#000"/><rect x="1266" y="313" width="1" height="1" fill="#000"/><rect x="1216" y="314" width="50" height="1" fill="#fff"/><text x="1265" y="312" text-anchor="end" font-family="Liberation Sans" font-weight="bold" font-size="9.6" fill="#fff" letter-spacing="0.45">88.85</text><rect x="1216" y="519" width="50" height="1" fill="#fff"/><rect x="1216" y="520" width="50" height="1" fill="#000"/><rect x="1266" y="520" width="1" height="1" fill="#000"/><rect x="1216" y="521" width="50" height="10" fill="#e00000"/><rect x="1266" y="521" width="1" height="10" fill="#000"/><rect x="1216" y="531" width="50" height="1" fill="#000"/><rect x="1266" y="531" width="1" height="1" fill="#000"/><rect x="1216" y="532" width="50" height="1" fill="#fff"/><text x="1265" y="530" text-anchor="end" font-family="Liberation Sans" font-weight="bold" font-size="9.6" fill="#fff" letter-spacing="0.45">75.00</text><rect x="1216" y="545" width="50" height="1" fill="#fff"/><rect x="1216" y="546" width="50" height="1" fill="#000"/><rect x="1266" y="546" width="1" height="1" fill="#000"/><rect x="1216" y="547" width="50" height="2" fill="#0000ff"/><rect x="1266" y="547" width="1" height="2" fill="#000"/><rect x="1216" y="549" width="50" height="1" fill="#000"/><rect x="1266" y="549" width="1" height="1" fill="#000"/><rect x="1216" y="550" width="50" height="10" fill="#ff8a00"/><rect x="1266" y="550" width="1" height="10" fill="#000"/><rect x="1216" y="560" width="50" height="1" fill="#000"/><rect x="1266" y="560" width="1" height="1" fill="#000"/><text x="1265" y="559" text-anchor="end" font-family="Liberation Sans" font-weight="bold" font-size="9.6" fill="#fff" letter-spacing="0.45">20.77</text><rect x="1216" y="561" width="50" height="3" fill="#ff8a00"/><rect x="1266" y="561" width="1" height="3" fill="#000"/><rect x="1216" y="564" width="50" height="2" fill="#000"/><rect x="1266" y="564" width="1" height="2" fill="#000"/><rect x="1240" y="561" width="25" height="2" fill="#ffd9a0"/><rect x="1216" y="614" width="50" height="1" fill="#fff"/><rect x="1216" y="615" width="50" height="1" fill="#000"/><rect x="1266" y="615" width="1" height="1" fill="#000"/><rect x="1216" y="616" width="50" height="10" fill="#ff0000"/><rect x="1266" y="616" width="1" height="10" fill="#000"/><rect x="1216" y="626" width="50" height="1" fill="#000"/><rect x="1266" y="626" width="1" height="1" fill="#000"/><rect x="1216" y="627" width="50" height="1" fill="#0000ff"/><rect x="1266" y="627" width="1" height="1" fill="#000"/><rect x="1216" y="628" width="50" height="1" fill="#000"/><rect x="1266" y="628" width="1" height="1" fill="#000"/><rect x="1216" y="629" width="50" height="1" fill="#fff"/><text x="1265" y="625" text-anchor="end" font-family="Liberation Sans" font-weight="bold" font-size="9.6" fill="#000" letter-spacing="0.45">0.41</text><rect x="1216" y="688" width="50" height="1" fill="#fff"/><rect x="1216" y="689" width="50" height="1" fill="#000"/><rect x="1266" y="689" width="1" height="1" fill="#000"/><rect x="1216" y="690" width="50" height="10" fill="#008000"/><rect x="1266" y="690" width="1" height="10" fill="#000"/><rect x="1216" y="700" width="50" height="2" fill="#000"/><rect x="1266" y="700" width="1" height="2" fill="#000"/><rect x="1216" y="702" width="50" height="1" fill="#fff"/><text x="1265" y="699" text-anchor="end" font-family="Liberation Sans" font-weight="bold" font-size="9.6" fill="#fff" letter-spacing="0.45">53.39</text><rect x="1216" y="712" width="50" height="1" fill="#fff"/><rect x="1216" y="713" width="50" height="1" fill="#000"/><rect x="1266" y="713" width="1" height="1" fill="#000"/><rect x="1216" y="714" width="50" height="10" fill="#0000ff"/><rect x="1266" y="714" width="1" height="10" fill="#000"/><rect x="1216" y="724" width="50" height="1" fill="#000"/><rect x="1266" y="724" width="1" height="1" fill="#000"/><text x="1265" y="723" text-anchor="end" font-family="Liberation Sans" font-weight="bold" font-size="9.6" fill="#fff" letter-spacing="0.45">7.70</text><rect x="1216" y="742" width="50" height="1" fill="#000"/><rect x="1266" y="742" width="1" height="1" fill="#000"/><rect x="1216" y="743" width="50" height="10" fill="#d00000"/><rect x="1266" y="743" width="1" height="10" fill="#000"/><rect x="1216" y="753" width="50" height="1" fill="#000"/><rect x="1266" y="753" width="1" height="1" fill="#000"/><rect x="1216" y="754" width="50" height="1" fill="#fff"/><text x="1265" y="752" text-anchor="end" font-family="Liberation Sans" font-weight="bold" font-size="9.6" fill="#fff" letter-spacing="0.45">75.00</text><rect x="1216" y="795" width="50" height="1" fill="#fff"/><rect x="1216" y="796" width="50" height="1" fill="#000"/><rect x="1266" y="796" width="1" height="1" fill="#000"/><rect x="1216" y="797" width="50" height="10" fill="#0000ff"/><rect x="1266" y="797" width="1" height="10" fill="#000"/><rect x="1216" y="807" width="50" height="1" fill="#000"/><rect x="1266" y="807" width="1" height="1" fill="#000"/><rect x="1216" y="808" width="50" height="1" fill="#0000c0"/><rect x="1266" y="808" width="1" height="1" fill="#000"/><rect x="1216" y="809" width="50" height="1" fill="#000"/><rect x="1266" y="809" width="1" height="1" fill="#000"/><text x="1265" y="806" text-anchor="end" font-family="Liberation Sans" font-weight="bold" font-size="9.6" fill="#fff" letter-spacing="0.45">27.00</text>
<text x="85" y="832" font-family="Liberation Sans" font-size="11.5" letter-spacing="0.4" fill="#000">Июл 9</text><text x="180" y="832" font-family="Liberation Sans" font-size="11.5" letter-spacing="0.4" fill="#000">16</text><text x="275" y="832" font-family="Liberation Sans" font-size="11.5" letter-spacing="0.4" fill="#000">23</text><text x="370" y="832" font-family="Liberation Sans" font-size="11.5" letter-spacing="0.4" fill="#000">30</text><text x="465" y="832" font-family="Liberation Sans" font-size="11.5" letter-spacing="0.4" fill="#000">Авг 6</text><text x="560" y="832" font-family="Liberation Sans" font-size="11.5" letter-spacing="0.4" fill="#000">13</text><text x="655" y="832" font-family="Liberation Sans" font-size="11.5" letter-spacing="0.4" fill="#000">20</text><text x="750" y="832" font-family="Liberation Sans" font-size="11.5" letter-spacing="0.4" fill="#000">27</text><text x="845" y="832" font-family="Liberation Sans" font-size="11.5" letter-spacing="0.4" fill="#000">Сен 3</text><text x="940" y="832" font-family="Liberation Sans" font-size="11.5" letter-spacing="0.4" fill="#000">10</text><text x="1035" y="832" font-family="Liberation Sans" font-size="11.5" letter-spacing="0.4" fill="#000">17</text><text x="1130" y="832" font-family="Liberation Sans" font-size="11.5" letter-spacing="0.4" fill="#000">24</text>
</svg>
</body></html>
